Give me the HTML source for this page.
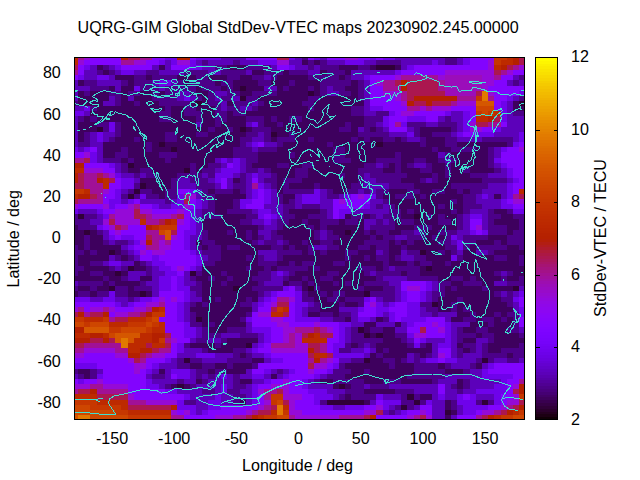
<!DOCTYPE html><html><head><meta charset="utf-8"><title>UQRG-GIM Global StdDev-VTEC maps</title>
<style>html,body{margin:0;padding:0;background:#fff}svg{display:block}text{font-family:"Liberation Sans",Arial,sans-serif;font-size:16.1px;fill:#000}</style></head><body>
<svg width="640" height="480" viewBox="0 0 640 480">
<rect width="640" height="480" fill="#fff"/>
<g shape-rendering="crispEdges">
<rect x="74" y="57" width="451" height="362" fill="#6301ce"/>
<path fill="#bd2a00" d="M74 58h4v2h-4zM507 58h6v2h-6zM74 60h4v5h-4zM501 60h12v5h-12zM494 65h7v5h-7zM494 111h7v5h-7zM476 116h12v6h-12zM74 168h10v5h-10zM103 178h6v5h-6zM103 183h6v6h-6zM84 189h6v5h-6zM519 189h5v5h-5zM74 194h4v5h-4zM140 219h6v6h-6zM171 219h6v6h-6zM152 225h7v5h-7zM159 307h6v5h-6zM283 307h6v5h-6zM271 312h12v5h-12zM84 317h19v5h-19zM128 317h18v5h-18zM109 322h19v5h-19zM159 322h6v5h-6zM152 327h13v6h-13zM74 333h16v5h-16zM103 333h6v5h-6zM140 333h12v5h-12zM314 333h6v5h-6zM134 338h18v5h-18zM302 338h25v5h-25zM128 343h18v5h-18zM152 343h13v5h-13zM128 348h12v5h-12zM314 353h13v5h-13zM74 394h23v6h-23zM97 400h31v5h-31zM121 405h7v5h-7zM283 405h6v5h-6zM128 410h43v5h-43zM271 410h6v5h-6zM513 410h6v5h-6zM258 415h6v5h-6zM494 415h7v5h-7z"/>
<path fill="#a11096" d="M78 58h6v2h-6zM140 58h12v2h-12zM121 60h13v5h-13zM513 65h6v5h-6zM74 70h4v5h-4zM501 70h6v5h-6zM401 75h37v5h-37zM494 75h7v5h-7zM383 80h12v6h-12zM438 80h7v6h-7zM383 86h18v5h-18zM438 86h7v5h-7zM401 91h6v5h-6zM401 96h6v5h-6zM457 96h19v5h-19zM488 96h6v5h-6zM451 101h6v5h-6zM407 106h13v5h-13zM426 106h6v5h-6zM395 122h6v5h-6zM488 122h13v5h-13zM74 158h10v5h-10zM84 173h13v5h-13zM103 173h6v5h-6zM84 178h13v5h-13zM84 183h19v6h-19zM252 183h6v6h-6zM90 189h13v5h-13zM97 194h6v5h-6zM184 194h6v5h-6zM513 194h6v5h-6zM78 199h25v5h-25zM134 204h6v5h-6zM109 214h6v5h-6zM146 214h6v5h-6zM171 214h6v5h-6zM146 219h13v6h-13zM121 225h7v5h-7zM146 230h13v5h-13zM152 235h13v5h-13zM152 240h7v5h-7zM165 240h6v5h-6zM146 245h13v5h-13zM277 297h12v5h-12zM159 302h6v5h-6zM78 307h6v5h-6zM103 307h6v5h-6zM146 307h6v5h-6zM84 312h6v5h-6zM128 312h12v5h-12zM109 317h6v5h-6zM295 327h19v6h-19zM320 327h7v6h-7zM289 333h6v5h-6zM165 338h6v5h-6zM289 338h6v5h-6zM84 343h37v5h-37zM271 343h24v5h-24zM320 343h7v5h-7zM74 348h10v5h-10zM115 348h13v5h-13zM159 348h12v5h-12zM320 348h7v5h-7zM146 353h6v5h-6zM140 358h6v5h-6zM308 358h6v5h-6zM320 358h7v5h-7zM519 379h5v5h-5zM90 384h13v5h-13zM74 389h4v5h-4zM97 389h31v5h-31zM264 389h13v5h-13zM264 394h7v6h-7zM128 400h18v5h-18zM264 405h7v5h-7zM507 405h6v5h-6zM252 410h6v5h-6zM494 410h7v5h-7zM171 415h13v5h-13zM233 415h13v5h-13zM289 415h6v5h-6zM339 415h25v5h-25zM414 415h6v5h-6zM476 415h6v5h-6z"/>
<path fill="#950ad7" d="M84 58h6v2h-6zM345 58h13v2h-13zM78 60h6v5h-6zM134 60h12v5h-12zM177 60h13v5h-13zM277 60h12v5h-12zM488 60h6v5h-6zM488 65h6v5h-6zM519 65h5v5h-5zM445 70h49v5h-49zM507 70h6v5h-6zM395 75h6v5h-6zM438 75h7v5h-7zM482 75h12v5h-12zM376 80h7v6h-7zM482 80h12v6h-12zM482 86h6v5h-6zM383 91h18v5h-18zM488 91h6v5h-6zM395 96h6v5h-6zM401 101h6v5h-6zM457 101h19v5h-19zM420 106h6v5h-6zM432 106h19v5h-19zM401 111h13v5h-13zM470 122h6v5h-6zM470 127h12v5h-12zM519 147h5v5h-5zM84 152h6v6h-6zM84 168h19v5h-19zM109 173h6v5h-6zM103 189h6v5h-6zM190 194h6v5h-6zM358 194h6v5h-6zM339 199h6v5h-6zM513 199h11v5h-11zM74 204h4v5h-4zM103 204h6v5h-6zM128 204h6v5h-6zM184 204h6v5h-6zM115 209h19v5h-19zM140 209h12v5h-12zM177 209h7v5h-7zM115 214h19v5h-19zM152 214h19v5h-19zM103 219h6v6h-6zM115 219h25v6h-25zM177 219h7v6h-7zM109 225h6v5h-6zM476 225h6v5h-6zM115 230h6v5h-6zM171 235h6v5h-6zM140 240h6v5h-6zM159 240h6v5h-6zM159 245h12v5h-12zM140 250h6v5h-6zM152 250h13v5h-13zM177 266h7v5h-7zM407 286h13v5h-13zM159 297h6v5h-6zM171 297h6v5h-6zM289 297h6v5h-6zM146 302h13v5h-13zM271 302h6v5h-6zM370 302h6v5h-6zM74 307h4v5h-4zM90 307h13v5h-13zM109 307h6v5h-6zM134 307h12v5h-12zM115 312h13v5h-13zM258 312h13v5h-13zM271 317h12v5h-12zM277 322h12v5h-12zM314 322h6v5h-6zM432 322h6v5h-6zM283 327h12v6h-12zM327 327h6v6h-6zM438 327h7v6h-7zM283 333h6v5h-6zM295 333h7v5h-7zM414 333h12v5h-12zM171 338h6v5h-6zM283 338h6v5h-6zM295 338h7v5h-7zM295 343h13v5h-13zM84 348h31v5h-31zM271 348h37v5h-37zM74 353h10v5h-10zM115 353h13v5h-13zM152 353h13v5h-13zM438 353h7v5h-7zM128 358h6v5h-6zM327 358h6v5h-6zM134 363h12v6h-12zM314 363h13v6h-13zM134 369h6v5h-6zM308 369h6v5h-6zM97 379h6v5h-6zM283 379h6v5h-6zM74 384h16v5h-16zM103 384h25v5h-25zM271 384h18v5h-18zM513 384h6v5h-6zM258 389h6v5h-6zM283 389h6v5h-6zM128 394h6v6h-6zM283 394h19v6h-19zM513 394h6v6h-6zM146 400h31v5h-31zM264 400h7v5h-7zM289 400h6v5h-6zM507 400h12v5h-12zM258 405h6v5h-6zM289 405h6v5h-6zM376 405h7v5h-7zM501 405h6v5h-6zM171 410h6v5h-6zM184 410h6v5h-6zM246 410h6v5h-6zM289 410h13v5h-13zM364 410h12v5h-12zM420 410h6v5h-6zM482 410h12v5h-12zM215 415h18v5h-18zM295 415h44v5h-44zM407 415h7v5h-7zM426 415h6v5h-6z"/>
<path fill="#8204fe" d="M90 58h31v2h-31zM152 58h13v2h-13zM190 58h6v2h-6zM246 58h31v2h-31zM308 58h6v2h-6zM327 58h18v2h-18zM358 58h12v2h-12zM376 58h7v2h-7zM470 58h24v2h-24zM84 60h37v5h-37zM146 60h13v5h-13zM470 60h18v5h-18zM78 65h6v5h-6zM121 65h31v5h-31zM171 65h19v5h-19zM277 65h12v5h-12zM414 65h74v5h-74zM78 70h6v5h-6zM401 70h44v5h-44zM513 70h11v5h-11zM74 75h4v5h-4zM370 75h25v5h-25zM501 75h12v5h-12zM370 80h6v6h-6zM494 80h13v6h-13zM370 86h13v5h-13zM488 86h36v5h-36zM370 91h13v5h-13zM494 91h25v5h-25zM370 96h25v5h-25zM494 96h13v5h-13zM370 101h31v5h-31zM494 101h7v5h-7zM383 106h24v5h-24zM451 106h25v5h-25zM494 106h7v5h-7zM395 111h6v5h-6zM414 111h31v5h-31zM470 111h6v5h-6zM389 116h18v6h-18zM426 116h12v6h-12zM470 116h6v6h-6zM389 122h6v5h-6zM501 122h6v5h-6zM389 127h18v5h-18zM482 127h12v5h-12zM463 132h13v5h-13zM258 142h6v5h-6zM519 142h5v5h-5zM90 147h7v5h-7zM507 147h12v5h-12zM74 152h10v6h-10zM501 152h23v6h-23zM501 158h23v5h-23zM84 163h25v5h-25zM227 163h6v5h-6zM507 163h17v5h-17zM103 168h12v5h-12zM513 168h11v5h-11zM513 173h11v5h-11zM115 178h6v5h-6zM221 178h6v5h-6zM252 178h6v5h-6zM519 178h5v5h-5zM109 183h12v6h-12zM221 183h6v6h-6zM513 183h11v6h-11zM109 189h6v5h-6zM177 189h13v5h-13zM258 189h6v5h-6zM513 189h6v5h-6zM103 194h12v5h-12zM258 194h6v5h-6zM351 194h7v5h-7zM364 194h6v5h-6zM103 199h6v5h-6zM134 199h6v5h-6zM190 199h6v5h-6zM252 199h12v5h-12zM333 199h6v5h-6zM345 199h25v5h-25zM507 199h6v5h-6zM78 204h25v5h-25zM115 204h13v5h-13zM140 204h12v5h-12zM190 204h6v5h-6zM246 204h18v5h-18zM333 204h31v5h-31zM513 204h11v5h-11zM103 209h12v5h-12zM152 209h25v5h-25zM184 209h6v5h-6zM333 209h6v5h-6zM184 214h6v5h-6zM264 214h7v5h-7zM333 214h6v5h-6zM184 219h6v6h-6zM470 219h12v6h-12zM103 225h6v5h-6zM128 225h18v5h-18zM177 225h13v5h-13zM470 225h6v5h-6zM109 230h6v5h-6zM121 230h25v5h-25zM177 230h7v5h-7zM476 230h6v5h-6zM115 235h6v5h-6zM134 235h12v5h-12zM177 235h7v5h-7zM171 240h13v5h-13zM134 245h12v5h-12zM171 245h13v5h-13zM146 250h6v5h-6zM165 250h25v5h-25zM140 255h12v6h-12zM159 255h37v6h-37zM165 261h31v5h-31zM171 266h6v5h-6zM184 266h6v5h-6zM177 271h7v5h-7zM171 276h6v5h-6zM171 281h6v5h-6zM401 281h25v5h-25zM171 286h6v5h-6zM289 286h6v5h-6zM401 286h6v5h-6zM420 286h6v5h-6zM159 291h25v6h-25zM277 291h18v6h-18zM407 291h13v6h-13zM152 297h7v5h-7zM165 297h6v5h-6zM177 297h7v5h-7zM271 297h6v5h-6zM370 297h6v5h-6zM407 297h13v5h-13zM519 297h5v5h-5zM74 302h41v5h-41zM134 302h12v5h-12zM165 302h12v5h-12zM264 302h7v5h-7zM289 302h6v5h-6zM364 302h6v5h-6zM395 302h12v5h-12zM519 302h5v5h-5zM84 307h6v5h-6zM115 307h19v5h-19zM165 307h12v5h-12zM258 307h13v5h-13zM289 307h6v5h-6zM364 307h12v5h-12zM389 307h18v5h-18zM109 312h6v5h-6zM165 312h12v5h-12zM252 312h6v5h-6zM289 312h6v5h-6zM358 312h18v5h-18zM395 312h12v5h-12zM159 317h18v5h-18zM252 317h19v5h-19zM283 317h12v5h-12zM395 317h6v5h-6zM426 317h19v5h-19zM519 317h5v5h-5zM165 322h19v5h-19zM252 322h25v5h-25zM289 322h25v5h-25zM320 322h19v5h-19zM414 322h18v5h-18zM438 322h7v5h-7zM519 322h5v5h-5zM165 327h19v6h-19zM271 327h12v6h-12zM333 327h6v6h-6zM407 327h13v6h-13zM426 327h12v6h-12zM171 333h13v5h-13zM271 333h12v5h-12zM333 333h6v5h-6zM426 333h19v5h-19zM177 338h13v5h-13zM271 338h12v5h-12zM327 338h12v5h-12zM414 338h6v5h-6zM171 343h6v5h-6zM264 343h7v5h-7zM327 343h6v5h-6zM171 348h6v5h-6zM258 348h13v5h-13zM327 348h6v5h-6zM438 348h13v5h-13zM84 353h31v5h-31zM165 353h12v5h-12zM271 353h37v5h-37zM445 353h6v5h-6zM74 358h54v5h-54zM146 358h19v5h-19zM283 358h25v5h-25zM333 358h6v5h-6zM438 358h7v5h-7zM97 363h37v6h-37zM146 363h6v6h-6zM258 363h50v6h-50zM327 363h6v6h-6zM494 363h30v6h-30zM103 369h31v5h-31zM140 369h6v5h-6zM252 369h12v5h-12zM295 369h13v5h-13zM314 369h13v5h-13zM488 369h36v5h-36zM103 374h43v5h-43zM171 374h6v5h-6zM289 374h25v5h-25zM513 374h11v5h-11zM74 379h4v5h-4zM84 379h13v5h-13zM103 379h43v5h-43zM271 379h12v5h-12zM289 379h13v5h-13zM507 379h12v5h-12zM128 384h18v5h-18zM258 384h13v5h-13zM289 384h13v5h-13zM438 384h7v5h-7zM507 384h6v5h-6zM128 389h37v5h-37zM289 389h19v5h-19zM438 389h7v5h-7zM507 389h6v5h-6zM134 394h50v6h-50zM258 394h6v6h-6zM302 394h12v6h-12zM463 394h7v6h-7zM501 394h12v6h-12zM258 400h6v5h-6zM295 400h19v5h-19zM376 400h7v5h-7zM501 400h6v5h-6zM221 405h37v5h-37zM295 405h25v5h-25zM364 405h12v5h-12zM420 405h12v5h-12zM488 405h13v5h-13zM177 410h7v5h-7zM208 410h38v5h-38zM302 410h62v5h-62zM407 410h13v5h-13zM426 410h6v5h-6zM476 410h6v5h-6zM184 415h31v5h-31zM376 415h31v5h-31zM457 415h19v5h-19z"/>
<path fill="#b42000" d="M121 58h7v2h-7zM177 58h13v2h-13zM513 58h6v2h-6zM513 60h6v5h-6zM501 65h6v5h-6zM401 80h6v6h-6zM401 86h6v5h-6zM414 96h43v5h-43zM407 101h7v5h-7zM426 101h6v5h-6zM488 116h6v6h-6zM74 163h10v5h-10zM74 173h4v5h-4zM74 178h4v5h-4zM97 178h6v5h-6zM78 194h12v5h-12zM165 219h6v6h-6zM146 225h6v5h-6zM146 240h6v5h-6zM152 307h7v5h-7zM78 312h6v5h-6zM103 312h6v5h-6zM146 312h6v5h-6zM74 327h10v6h-10zM90 333h13v5h-13zM152 333h13v5h-13zM308 333h6v5h-6zM74 338h16v5h-16zM103 338h6v5h-6zM152 338h7v5h-7zM140 348h12v5h-12zM308 348h6v5h-6zM128 353h12v5h-12zM314 358h6v5h-6zM519 384h5v5h-5zM90 389h7v5h-7zM519 389h5v5h-5zM171 405h6v5h-6zM519 405h5v5h-5zM507 410h6v5h-6zM252 415h6v5h-6zM370 415h6v5h-6zM488 415h6v5h-6z"/>
<path fill="#ab174f" d="M128 58h12v2h-12zM277 58h12v2h-12zM519 58h5v2h-5zM519 60h5v5h-5zM74 65h4v5h-4zM507 65h6v5h-6zM494 70h7v5h-7zM395 80h6v6h-6zM407 80h31v6h-31zM407 86h31v5h-31zM407 91h38v5h-38zM476 91h6v5h-6zM407 96h7v5h-7zM414 101h12v5h-12zM432 101h19v5h-19zM494 116h7v6h-7zM476 122h12v5h-12zM84 158h6v5h-6zM78 173h6v5h-6zM97 173h6v5h-6zM78 178h6v5h-6zM109 178h6v5h-6zM74 183h10v6h-10zM90 194h7v5h-7zM519 194h5v5h-5zM74 199h4v5h-4zM184 199h6v5h-6zM134 209h6v5h-6zM134 214h12v5h-12zM177 214h7v5h-7zM109 219h6v6h-6zM159 219h6v6h-6zM115 225h6v5h-6zM171 230h6v5h-6zM146 235h6v5h-6zM277 302h12v5h-12zM271 307h6v5h-6zM74 312h4v5h-4zM90 312h13v5h-13zM140 312h6v5h-6zM283 312h6v5h-6zM115 317h13v5h-13zM314 327h6v6h-6zM420 327h6v6h-6zM165 333h6v5h-6zM302 333h6v5h-6zM320 333h13v5h-13zM90 338h13v5h-13zM109 338h6v5h-6zM74 343h10v5h-10zM146 343h6v5h-6zM165 343h6v5h-6zM308 343h12v5h-12zM152 348h7v5h-7zM314 348h6v5h-6zM140 353h6v5h-6zM308 353h6v5h-6zM327 353h6v5h-6zM134 358h6v5h-6zM308 363h6v6h-6zM78 389h12v5h-12zM277 389h6v5h-6zM513 389h6v5h-6zM97 394h31v6h-31zM283 400h6v5h-6zM519 400h5v5h-5zM128 405h43v5h-43zM271 405h6v5h-6zM513 405h6v5h-6zM258 410h13v5h-13zM376 410h7v5h-7zM501 410h6v5h-6zM246 415h6v5h-6zM364 415h6v5h-6zM420 415h6v5h-6zM482 415h6v5h-6z"/>
<path fill="#6e02ea" d="M165 58h12v2h-12zM196 58h25v2h-25zM289 58h6v2h-6zM314 58h6v2h-6zM370 58h6v2h-6zM383 58h12v2h-12zM463 58h7v2h-7zM159 60h6v5h-6zM171 60h6v5h-6zM190 60h6v5h-6zM258 60h19v5h-19zM345 60h19v5h-19zM432 60h6v5h-6zM463 60h7v5h-7zM84 65h6v5h-6zM115 65h6v5h-6zM190 65h12v5h-12zM289 65h6v5h-6zM407 65h7v5h-7zM121 70h13v5h-13zM395 70h6v5h-6zM78 75h6v5h-6zM97 75h12v5h-12zM364 75h6v5h-6zM159 80h12v6h-12zM134 86h6v5h-6zM519 91h5v5h-5zM184 96h6v5h-6zM507 96h6v5h-6zM501 101h6v5h-6zM84 106h6v5h-6zM370 106h13v5h-13zM501 106h6v5h-6zM74 111h10v5h-10zM389 111h6v5h-6zM445 111h6v5h-6zM463 111h7v5h-7zM501 111h6v5h-6zM383 116h6v6h-6zM407 116h19v6h-19zM463 116h7v6h-7zM501 116h6v6h-6zM109 122h6v5h-6zM252 122h6v5h-6zM383 122h6v5h-6zM401 122h6v5h-6zM463 122h7v5h-7zM109 127h6v5h-6zM463 127h7v5h-7zM494 127h7v5h-7zM97 132h6v5h-6zM407 132h7v5h-7zM457 132h6v5h-6zM476 132h18v5h-18zM519 132h5v5h-5zM97 137h6v5h-6zM519 137h5v5h-5zM252 142h6v5h-6zM513 142h6v5h-6zM74 147h4v5h-4zM84 147h6v5h-6zM501 147h6v5h-6zM90 152h7v6h-7zM90 158h7v5h-7zM221 158h6v5h-6zM233 158h7v5h-7zM494 158h7v5h-7zM109 163h6v5h-6zM233 163h7v5h-7zM501 163h6v5h-6zM221 168h19v5h-19zM507 168h6v5h-6zM115 173h6v5h-6zM215 173h18v5h-18zM252 173h6v5h-6zM507 173h6v5h-6zM121 178h13v5h-13zM215 178h6v5h-6zM513 178h6v5h-6zM121 183h13v6h-13zM258 183h6v6h-6zM507 183h6v6h-6zM115 189h6v5h-6zM190 189h6v5h-6zM252 189h6v5h-6zM264 189h7v5h-7zM314 189h6v5h-6zM507 189h6v5h-6zM115 194h6v5h-6zM140 194h6v5h-6zM177 194h7v5h-7zM252 194h6v5h-6zM264 194h7v5h-7zM302 194h18v5h-18zM345 194h6v5h-6zM370 194h6v5h-6zM482 194h6v5h-6zM507 194h6v5h-6zM109 199h12v5h-12zM128 199h6v5h-6zM177 199h7v5h-7zM196 199h6v5h-6zM240 199h12v5h-12zM264 199h7v5h-7zM302 199h18v5h-18zM501 199h6v5h-6zM109 204h6v5h-6zM152 204h7v5h-7zM171 204h13v5h-13zM196 204h6v5h-6zM240 204h6v5h-6zM364 204h6v5h-6zM501 204h12v5h-12zM74 209h4v5h-4zM97 209h6v5h-6zM190 209h6v5h-6zM258 209h13v5h-13zM339 209h12v5h-12zM513 209h11v5h-11zM103 214h6v5h-6zM190 214h6v5h-6zM258 214h6v5h-6zM271 214h6v5h-6zM339 214h6v5h-6zM470 214h12v5h-12zM190 219h6v6h-6zM264 219h7v6h-7zM97 225h6v5h-6zM190 225h6v5h-6zM184 230h12v5h-12zM470 230h6v5h-6zM482 230h6v5h-6zM109 235h6v5h-6zM121 235h13v5h-13zM184 235h6v5h-6zM451 235h6v5h-6zM134 240h6v5h-6zM184 240h6v5h-6zM457 240h6v5h-6zM128 245h6v5h-6zM184 245h6v5h-6zM457 245h6v5h-6zM134 250h6v5h-6zM190 250h6v5h-6zM152 255h7v6h-7zM196 255h6v6h-6zM451 255h6v6h-6zM109 261h12v5h-12zM152 261h13v5h-13zM196 261h6v5h-6zM159 266h12v5h-12zM190 266h6v5h-6zM165 271h12v5h-12zM277 271h6v5h-6zM159 276h12v5h-12zM177 276h7v5h-7zM159 281h12v5h-12zM177 281h7v5h-7zM426 281h6v5h-6zM159 286h12v5h-12zM177 286h13v5h-13zM283 286h6v5h-6zM426 286h6v5h-6zM109 291h6v6h-6zM184 291h6v6h-6zM271 291h6v6h-6zM295 291h7v6h-7zM401 291h6v6h-6zM420 291h6v6h-6zM519 291h5v6h-5zM74 297h16v5h-16zM103 297h12v5h-12zM140 297h12v5h-12zM184 297h6v5h-6zM264 297h7v5h-7zM295 297h7v5h-7zM364 297h6v5h-6zM401 297h6v5h-6zM420 297h6v5h-6zM513 297h6v5h-6zM115 302h6v5h-6zM128 302h6v5h-6zM177 302h7v5h-7zM258 302h6v5h-6zM295 302h13v5h-13zM376 302h7v5h-7zM389 302h6v5h-6zM407 302h13v5h-13zM177 307h7v5h-7zM295 307h7v5h-7zM358 307h6v5h-6zM376 307h13v5h-13zM407 307h13v5h-13zM519 307h5v5h-5zM177 312h7v5h-7zM295 312h7v5h-7zM376 312h7v5h-7zM389 312h6v5h-6zM407 312h13v5h-13zM519 312h5v5h-5zM177 317h7v5h-7zM246 317h6v5h-6zM295 317h25v5h-25zM358 317h12v5h-12zM389 317h6v5h-6zM401 317h25v5h-25zM184 322h6v5h-6zM339 322h12v5h-12zM407 322h7v5h-7zM445 322h6v5h-6zM184 327h12v6h-12zM252 327h19v6h-19zM339 327h6v6h-6zM445 327h6v6h-6zM184 333h12v5h-12zM264 333h7v5h-7zM339 333h6v5h-6zM407 333h7v5h-7zM445 333h6v5h-6zM264 338h7v5h-7zM339 338h6v5h-6zM420 338h6v5h-6zM445 338h6v5h-6zM177 343h7v5h-7zM258 343h6v5h-6zM333 343h12v5h-12zM414 343h6v5h-6zM438 343h13v5h-13zM177 348h7v5h-7zM252 348h6v5h-6zM333 348h6v5h-6zM364 348h6v5h-6zM196 353h19v5h-19zM264 353h7v5h-7zM333 353h31v5h-31zM165 358h6v5h-6zM271 358h12v5h-12zM426 358h12v5h-12zM445 358h12v5h-12zM74 363h23v6h-23zM152 363h7v6h-7zM333 363h6v6h-6zM488 363h6v6h-6zM146 369h6v5h-6zM171 369h19v5h-19zM264 369h7v5h-7zM289 369h6v5h-6zM327 369h6v5h-6zM482 369h6v5h-6zM97 374h6v5h-6zM177 374h13v5h-13zM221 374h6v5h-6zM252 374h12v5h-12zM283 374h6v5h-6zM314 374h6v5h-6zM482 374h31v5h-31zM78 379h6v5h-6zM146 379h6v5h-6zM264 379h7v5h-7zM302 379h6v5h-6zM501 379h6v5h-6zM146 384h13v5h-13zM221 384h6v5h-6zM252 384h6v5h-6zM302 384h6v5h-6zM494 384h13v5h-13zM165 389h12v5h-12zM221 389h6v5h-6zM252 389h6v5h-6zM308 389h19v5h-19zM476 389h31v5h-31zM184 394h6v6h-6zM215 394h6v6h-6zM252 394h6v6h-6zM314 394h19v6h-19zM376 394h7v6h-7zM438 394h7v6h-7zM457 394h6v6h-6zM470 394h6v6h-6zM494 394h7v6h-7zM177 400h7v5h-7zM208 400h13v5h-13zM252 400h6v5h-6zM314 400h6v5h-6zM383 400h18v5h-18zM426 400h6v5h-6zM457 400h19v5h-19zM494 400h7v5h-7zM177 405h19v5h-19zM208 405h13v5h-13zM320 405h13v5h-13zM345 405h19v5h-19zM383 405h6v5h-6zM463 405h25v5h-25zM190 410h6v5h-6zM202 410h6v5h-6zM401 410h6v5h-6zM463 410h13v5h-13z"/>
<path fill="#5c01ba" d="M221 58h25v2h-25zM295 58h7v2h-7zM320 58h7v2h-7zM395 58h50v2h-50zM457 58h6v2h-6zM165 60h6v5h-6zM196 60h6v5h-6zM208 60h25v5h-25zM240 60h18v5h-18zM289 60h13v5h-13zM327 60h18v5h-18zM364 60h12v5h-12zM401 60h31v5h-31zM438 60h7v5h-7zM457 60h6v5h-6zM90 65h7v5h-7zM109 65h6v5h-6zM152 65h7v5h-7zM165 65h6v5h-6zM202 65h13v5h-13zM271 65h6v5h-6zM295 65h13v5h-13zM314 65h6v5h-6zM401 65h6v5h-6zM84 70h13v5h-13zM115 70h6v5h-6zM134 70h12v5h-12zM159 70h25v5h-25zM208 70h13v5h-13zM246 70h6v5h-6zM308 70h12v5h-12zM351 70h44v5h-44zM84 75h13v5h-13zM109 75h6v5h-6zM264 75h7v5h-7zM351 75h13v5h-13zM513 75h6v5h-6zM74 80h4v6h-4zM97 80h24v6h-24zM152 80h7v6h-7zM171 80h6v6h-6zM364 80h6v6h-6zM507 80h6v6h-6zM519 80h5v6h-5zM74 86h16v5h-16zM115 86h6v5h-6zM159 86h6v5h-6zM264 86h13v5h-13zM327 86h6v5h-6zM364 86h6v5h-6zM74 91h4v5h-4zM177 91h13v5h-13zM215 91h12v5h-12zM327 91h12v5h-12zM364 91h6v5h-6zM74 96h4v5h-4zM109 96h6v5h-6zM128 96h6v5h-6zM177 96h7v5h-7zM190 96h6v5h-6zM215 96h6v5h-6zM233 96h7v5h-7zM364 96h6v5h-6zM513 96h6v5h-6zM103 101h12v5h-12zM221 101h6v5h-6zM252 101h6v5h-6zM364 101h6v5h-6zM507 101h6v5h-6zM74 106h10v5h-10zM221 106h6v5h-6zM240 106h12v5h-12zM364 106h6v5h-6zM507 106h6v5h-6zM84 111h6v5h-6zM364 111h12v5h-12zM451 111h12v5h-12zM507 111h6v5h-6zM74 116h4v6h-4zM438 116h7v6h-7zM451 116h12v6h-12zM507 116h17v6h-17zM74 122h4v5h-4zM196 122h6v5h-6zM246 122h6v5h-6zM376 122h7v5h-7zM426 122h12v5h-12zM457 122h6v5h-6zM507 122h17v5h-17zM74 127h4v5h-4zM358 127h6v5h-6zM383 127h6v5h-6zM407 127h7v5h-7zM457 127h6v5h-6zM501 127h23v5h-23zM74 132h4v5h-4zM90 132h7v5h-7zM103 132h12v5h-12zM258 132h6v5h-6zM389 132h18v5h-18zM451 132h6v5h-6zM494 132h25v5h-25zM74 137h4v5h-4zM90 137h7v5h-7zM103 137h6v5h-6zM252 137h12v5h-12zM407 137h13v5h-13zM457 137h25v5h-25zM513 137h6v5h-6zM74 142h4v5h-4zM90 142h13v5h-13zM246 142h6v5h-6zM264 142h13v5h-13zM78 147h6v5h-6zM97 147h6v5h-6zM252 147h6v5h-6zM494 147h7v5h-7zM97 152h6v6h-6zM438 152h7v6h-7zM494 152h7v6h-7zM97 158h6v5h-6zM215 158h6v5h-6zM227 158h6v5h-6zM240 158h6v5h-6zM445 158h6v5h-6zM115 163h6v5h-6zM221 163h6v5h-6zM240 163h6v5h-6zM376 163h7v5h-7zM414 163h12v5h-12zM494 163h7v5h-7zM115 168h6v5h-6zM215 168h6v5h-6zM240 168h6v5h-6zM258 168h6v5h-6zM501 168h6v5h-6zM121 173h13v5h-13zM140 173h6v5h-6zM202 173h6v5h-6zM233 173h7v5h-7zM246 173h6v5h-6zM258 173h13v5h-13zM364 173h6v5h-6zM488 173h19v5h-19zM134 178h6v5h-6zM177 178h13v5h-13zM208 178h7v5h-7zM227 178h6v5h-6zM246 178h6v5h-6zM258 178h6v5h-6zM364 178h12v5h-12zM426 178h6v5h-6zM507 178h6v5h-6zM177 183h19v6h-19zM215 183h6v6h-6zM227 183h6v6h-6zM246 183h6v6h-6zM264 183h7v6h-7zM364 183h25v6h-25zM488 183h19v6h-19zM121 189h7v5h-7zM196 189h6v5h-6zM246 189h6v5h-6zM271 189h6v5h-6zM320 189h7v5h-7zM358 189h6v5h-6zM370 189h6v5h-6zM482 189h25v5h-25zM196 194h6v5h-6zM246 194h6v5h-6zM271 194h6v5h-6zM295 194h7v5h-7zM320 194h7v5h-7zM339 194h6v5h-6zM476 194h6v5h-6zM488 194h6v5h-6zM501 194h6v5h-6zM121 199h7v5h-7zM140 199h25v5h-25zM171 199h6v5h-6zM202 199h6v5h-6zM271 199h6v5h-6zM295 199h7v5h-7zM320 199h13v5h-13zM370 199h13v5h-13zM476 199h25v5h-25zM159 204h12v5h-12zM202 204h6v5h-6zM264 204h19v5h-19zM295 204h7v5h-7zM320 204h13v5h-13zM370 204h6v5h-6zM383 204h6v5h-6zM482 204h19v5h-19zM78 209h19v5h-19zM196 209h6v5h-6zM252 209h6v5h-6zM271 209h12v5h-12zM327 209h6v5h-6zM351 209h38v5h-38zM470 209h18v5h-18zM97 214h6v5h-6zM196 214h6v5h-6zM277 214h6v5h-6zM327 214h6v5h-6zM376 214h7v5h-7zM463 214h7v5h-7zM482 214h6v5h-6zM90 219h13v6h-13zM196 219h6v6h-6zM252 219h12v6h-12zM271 219h6v6h-6zM364 219h12v6h-12zM383 219h6v6h-6zM463 219h7v6h-7zM482 219h6v6h-6zM196 225h6v5h-6zM264 225h13v5h-13zM364 225h6v5h-6zM463 225h7v5h-7zM482 225h6v5h-6zM103 230h6v5h-6zM196 230h6v5h-6zM258 230h13v5h-13zM320 230h7v5h-7zM414 230h6v5h-6zM457 230h13v5h-13zM103 235h6v5h-6zM190 235h12v5h-12zM264 235h7v5h-7zM320 235h7v5h-7zM395 235h12v5h-12zM457 235h6v5h-6zM109 240h6v5h-6zM128 240h6v5h-6zM190 240h6v5h-6zM258 240h6v5h-6zM277 240h6v5h-6zM451 240h6v5h-6zM121 245h7v5h-7zM190 245h6v5h-6zM314 245h13v5h-13zM128 250h6v5h-6zM196 250h6v5h-6zM258 250h19v5h-19zM376 250h7v5h-7zM401 250h6v5h-6zM457 250h6v5h-6zM476 250h12v5h-12zM109 255h6v6h-6zM134 255h6v6h-6zM202 255h6v6h-6zM264 255h13v6h-13zM401 255h13v6h-13zM103 261h6v5h-6zM121 261h13v5h-13zM146 261h6v5h-6zM115 266h6v5h-6zM152 266h7v5h-7zM196 266h6v5h-6zM389 266h6v5h-6zM128 271h18v5h-18zM152 271h13v5h-13zM184 271h6v5h-6zM271 271h6v5h-6zM283 271h6v5h-6zM370 271h6v5h-6zM501 271h6v5h-6zM128 276h12v5h-12zM152 276h7v5h-7zM184 276h6v5h-6zM271 276h12v5h-12zM383 276h24v5h-24zM74 281h4v5h-4zM146 281h13v5h-13zM184 281h12v5h-12zM264 281h19v5h-19zM389 281h12v5h-12zM432 281h6v5h-6zM494 281h13v5h-13zM152 286h7v5h-7zM295 286h7v5h-7zM395 286h6v5h-6zM432 286h6v5h-6zM519 286h5v5h-5zM152 291h7v6h-7zM190 291h6v6h-6zM264 291h7v6h-7zM395 291h6v6h-6zM426 291h6v6h-6zM501 291h6v6h-6zM513 291h6v6h-6zM90 297h13v5h-13zM115 297h13v5h-13zM134 297h6v5h-6zM190 297h12v5h-12zM258 297h6v5h-6zM376 297h7v5h-7zM395 297h6v5h-6zM426 297h6v5h-6zM121 302h7v5h-7zM184 302h6v5h-6zM252 302h6v5h-6zM308 302h6v5h-6zM383 302h6v5h-6zM513 302h6v5h-6zM184 307h6v5h-6zM252 307h6v5h-6zM302 307h6v5h-6zM339 307h19v5h-19zM420 307h6v5h-6zM513 307h6v5h-6zM184 312h6v5h-6zM302 312h6v5h-6zM351 312h7v5h-7zM383 312h6v5h-6zM420 312h12v5h-12zM438 312h19v5h-19zM184 317h6v5h-6zM320 317h13v5h-13zM351 317h7v5h-7zM370 317h6v5h-6zM445 317h6v5h-6zM246 322h6v5h-6zM351 322h13v5h-13zM376 322h19v5h-19zM401 322h6v5h-6zM451 322h19v5h-19zM196 327h6v6h-6zM246 327h6v6h-6zM345 327h6v6h-6zM395 327h12v6h-12zM451 327h6v6h-6zM519 327h5v6h-5zM196 333h6v5h-6zM221 333h19v5h-19zM258 333h6v5h-6zM345 333h6v5h-6zM451 333h6v5h-6zM190 338h6v5h-6zM208 338h13v5h-13zM258 338h6v5h-6zM345 338h6v5h-6zM407 338h7v5h-7zM426 338h19v5h-19zM451 338h6v5h-6zM476 338h12v5h-12zM252 343h6v5h-6zM364 343h6v5h-6zM432 343h6v5h-6zM451 343h6v5h-6zM476 343h6v5h-6zM184 348h18v5h-18zM246 348h6v5h-6zM351 348h13v5h-13zM370 348h6v5h-6zM432 348h6v5h-6zM451 348h6v5h-6zM476 348h6v5h-6zM177 353h19v5h-19zM215 353h18v5h-18zM252 353h12v5h-12zM364 353h6v5h-6zM407 353h7v5h-7zM432 353h6v5h-6zM451 353h6v5h-6zM463 353h19v5h-19zM171 358h6v5h-6zM202 358h25v5h-25zM264 358h7v5h-7zM339 358h12v5h-12zM407 358h7v5h-7zM420 358h6v5h-6zM457 358h19v5h-19zM494 358h13v5h-13zM519 358h5v5h-5zM159 363h18v6h-18zM451 363h19v6h-19zM482 363h6v6h-6zM97 369h6v5h-6zM152 369h7v5h-7zM165 369h6v5h-6zM190 369h6v5h-6zM246 369h6v5h-6zM271 369h6v5h-6zM283 369h6v5h-6zM470 369h12v5h-12zM74 374h4v5h-4zM146 374h6v5h-6zM165 374h6v5h-6zM190 374h6v5h-6zM202 374h6v5h-6zM215 374h6v5h-6zM227 374h6v5h-6zM240 374h12v5h-12zM264 374h7v5h-7zM277 374h6v5h-6zM320 374h7v5h-7zM445 374h37v5h-37zM152 379h25v5h-25zM184 379h12v5h-12zM208 379h25v5h-25zM252 379h12v5h-12zM308 379h6v5h-6zM438 379h19v5h-19zM470 379h31v5h-31zM159 384h6v5h-6zM196 384h25v5h-25zM227 384h6v5h-6zM246 384h6v5h-6zM308 384h25v5h-25zM364 384h6v5h-6zM389 384h49v5h-49zM445 384h6v5h-6zM470 384h24v5h-24zM177 389h25v5h-25zM215 389h6v5h-6zM240 389h12v5h-12zM327 389h18v5h-18zM414 389h24v5h-24zM445 389h12v5h-12zM463 389h13v5h-13zM190 394h25v6h-25zM221 394h12v6h-12zM246 394h6v6h-6zM333 394h6v6h-6zM383 394h18v6h-18zM432 394h6v6h-6zM445 394h12v6h-12zM476 394h18v6h-18zM196 400h12v5h-12zM221 400h12v5h-12zM246 400h6v5h-6zM370 400h6v5h-6zM432 400h13v5h-13zM196 405h12v5h-12zM333 405h12v5h-12zM389 405h6v5h-6zM414 405h6v5h-6zM432 405h13v5h-13zM457 405h6v5h-6zM196 410h6v5h-6zM383 410h6v5h-6zM395 410h6v5h-6zM432 410h13v5h-13zM457 410h6v5h-6zM432 415h13v5h-13zM451 415h6v5h-6z"/>
<path fill="#4c0089" d="M302 58h6v2h-6zM445 58h12v2h-12zM202 60h6v5h-6zM233 60h7v5h-7zM308 60h6v5h-6zM320 60h7v5h-7zM376 60h25v5h-25zM445 60h12v5h-12zM103 65h6v5h-6zM215 65h12v5h-12zM246 65h25v5h-25zM308 65h6v5h-6zM320 65h19v5h-19zM358 65h12v5h-12zM97 70h6v5h-6zM109 70h6v5h-6zM146 70h13v5h-13zM184 70h24v5h-24zM221 70h25v5h-25zM264 70h19v5h-19zM289 70h19v5h-19zM327 70h18v5h-18zM134 75h12v5h-12zM152 75h25v5h-25zM196 75h12v5h-12zM227 75h13v5h-13zM252 75h12v5h-12zM271 75h6v5h-6zM308 75h31v5h-31zM345 75h6v5h-6zM519 75h5v5h-5zM84 80h13v6h-13zM121 80h7v6h-7zM134 80h18v6h-18zM177 80h7v6h-7zM190 80h25v6h-25zM221 80h12v6h-12zM258 80h13v6h-13zM289 80h6v6h-6zM320 80h31v6h-31zM358 80h6v6h-6zM513 80h6v6h-6zM90 86h19v5h-19zM140 86h19v5h-19zM165 86h31v5h-31zM202 86h19v5h-19zM227 86h6v5h-6zM283 86h6v5h-6zM308 86h6v5h-6zM320 86h7v5h-7zM333 86h12v5h-12zM358 86h6v5h-6zM84 91h6v5h-6zM109 91h12v5h-12zM128 91h12v5h-12zM152 91h7v5h-7zM165 91h12v5h-12zM190 91h6v5h-6zM208 91h7v5h-7zM227 91h13v5h-13zM252 91h25v5h-25zM320 91h7v5h-7zM339 91h12v5h-12zM358 91h6v5h-6zM115 96h6v5h-6zM152 96h25v5h-25zM196 96h6v5h-6zM208 96h7v5h-7zM221 96h12v5h-12zM246 96h12v5h-12zM308 96h12v5h-12zM358 96h6v5h-6zM519 96h5v5h-5zM74 101h4v5h-4zM115 101h6v5h-6zM134 101h6v5h-6zM159 101h31v5h-31zM208 101h13v5h-13zM233 101h19v5h-19zM258 101h6v5h-6zM302 101h12v5h-12zM90 106h7v5h-7zM165 106h6v5h-6zM184 106h12v5h-12zM215 106h6v5h-6zM227 106h13v5h-13zM252 106h6v5h-6zM308 106h6v5h-6zM351 106h13v5h-13zM159 111h12v5h-12zM184 111h18v5h-18zM215 111h12v5h-12zM233 111h13v5h-13zM351 111h13v5h-13zM376 111h13v5h-13zM513 111h11v5h-11zM78 116h6v6h-6zM90 116h7v6h-7zM159 116h12v6h-12zM196 116h6v6h-6zM215 116h12v6h-12zM246 116h18v6h-18zM271 116h6v6h-6zM289 116h13v6h-13zM364 116h19v6h-19zM445 116h6v6h-6zM97 122h12v5h-12zM115 122h6v5h-6zM215 122h6v5h-6zM258 122h6v5h-6zM277 122h6v5h-6zM345 122h6v5h-6zM364 122h12v5h-12zM407 122h19v5h-19zM438 122h19v5h-19zM103 127h6v5h-6zM115 127h6v5h-6zM208 127h7v5h-7zM227 127h6v5h-6zM252 127h19v5h-19zM339 127h12v5h-12zM364 127h6v5h-6zM376 127h7v5h-7zM414 127h6v5h-6zM451 127h6v5h-6zM84 132h6v5h-6zM115 132h6v5h-6zM165 132h12v5h-12zM196 132h12v5h-12zM246 132h12v5h-12zM264 132h7v5h-7zM289 132h6v5h-6zM358 132h31v5h-31zM414 132h6v5h-6zM432 132h19v5h-19zM84 137h6v5h-6zM109 137h6v5h-6zM134 137h6v5h-6zM165 137h12v5h-12zM240 137h12v5h-12zM264 137h7v5h-7zM277 137h18v5h-18zM308 137h6v5h-6zM351 137h7v5h-7zM364 137h6v5h-6zM383 137h12v5h-12zM401 137h6v5h-6zM420 137h6v5h-6zM445 137h12v5h-12zM482 137h31v5h-31zM78 142h12v5h-12zM146 142h6v5h-6zM240 142h6v5h-6zM277 142h6v5h-6zM327 142h6v5h-6zM420 142h6v5h-6zM445 142h12v5h-12zM507 142h6v5h-6zM121 147h7v5h-7zM146 147h6v5h-6zM233 147h19v5h-19zM258 147h19v5h-19zM333 147h12v5h-12zM432 147h6v5h-6zM451 147h25v5h-25zM488 147h6v5h-6zM115 152h13v6h-13zM159 152h18v6h-18zM233 152h25v6h-25zM289 152h6v6h-6zM333 152h12v6h-12zM395 152h6v6h-6zM445 152h6v6h-6zM488 152h6v6h-6zM103 158h18v5h-18zM128 158h6v5h-6zM165 158h6v5h-6zM246 158h12v5h-12zM333 158h18v5h-18zM376 158h25v5h-25zM414 158h12v5h-12zM438 158h7v5h-7zM451 158h6v5h-6zM488 158h6v5h-6zM121 163h7v5h-7zM190 163h6v5h-6zM208 163h13v5h-13zM246 163h6v5h-6zM277 163h12v5h-12zM302 163h12v5h-12zM364 163h12v5h-12zM383 163h6v5h-6zM395 163h6v5h-6zM407 163h7v5h-7zM426 163h6v5h-6zM445 163h6v5h-6zM488 163h6v5h-6zM121 168h7v5h-7zM140 168h12v5h-12zM190 168h6v5h-6zM202 168h13v5h-13zM246 168h12v5h-12zM264 168h7v5h-7zM295 168h13v5h-13zM358 168h25v5h-25zM395 168h6v5h-6zM420 168h12v5h-12zM445 168h6v5h-6zM463 168h7v5h-7zM494 168h7v5h-7zM134 173h6v5h-6zM146 173h13v5h-13zM177 173h25v5h-25zM208 173h7v5h-7zM240 173h6v5h-6zM271 173h6v5h-6zM295 173h13v5h-13zM339 173h6v5h-6zM358 173h6v5h-6zM370 173h37v5h-37zM432 173h6v5h-6zM445 173h6v5h-6zM470 173h18v5h-18zM171 178h6v5h-6zM190 178h18v5h-18zM240 178h6v5h-6zM264 178h13v5h-13zM283 178h19v5h-19zM358 178h6v5h-6zM376 178h25v5h-25zM420 178h6v5h-6zM432 178h6v5h-6zM482 178h25v5h-25zM134 183h6v6h-6zM171 183h6v6h-6zM196 183h19v6h-19zM233 183h13v6h-13zM271 183h6v6h-6zM283 183h6v6h-6zM314 183h6v6h-6zM351 183h13v6h-13zM389 183h25v6h-25zM451 183h37v6h-37zM128 189h6v5h-6zM140 189h12v5h-12zM165 189h12v5h-12zM202 189h6v5h-6zM215 189h18v5h-18zM240 189h6v5h-6zM283 189h31v5h-31zM327 189h6v5h-6zM345 189h13v5h-13zM364 189h6v5h-6zM376 189h13v5h-13zM407 189h13v5h-13zM432 189h13v5h-13zM457 189h6v5h-6zM470 189h12v5h-12zM121 194h7v5h-7zM134 194h6v5h-6zM146 194h13v5h-13zM165 194h12v5h-12zM202 194h13v5h-13zM277 194h6v5h-6zM327 194h12v5h-12zM376 194h7v5h-7zM395 194h19v5h-19zM420 194h6v5h-6zM463 194h13v5h-13zM165 199h6v5h-6zM208 199h7v5h-7zM233 199h7v5h-7zM277 199h6v5h-6zM289 199h6v5h-6zM383 199h6v5h-6zM451 199h6v5h-6zM463 199h13v5h-13zM208 204h7v5h-7zM233 204h7v5h-7zM283 204h12v5h-12zM302 204h18v5h-18zM376 204h7v5h-7zM389 204h6v5h-6zM438 204h7v5h-7zM463 204h19v5h-19zM202 209h13v5h-13zM227 209h25v5h-25zM283 209h6v5h-6zM320 209h7v5h-7zM389 209h12v5h-12zM407 209h7v5h-7zM451 209h6v5h-6zM463 209h7v5h-7zM488 209h6v5h-6zM507 209h6v5h-6zM74 214h4v5h-4zM84 214h13v5h-13zM202 214h19v5h-19zM246 214h12v5h-12zM283 214h12v5h-12zM308 214h19v5h-19zM351 214h13v5h-13zM370 214h6v5h-6zM383 214h18v5h-18zM426 214h6v5h-6zM438 214h7v5h-7zM457 214h6v5h-6zM488 214h13v5h-13zM513 214h11v5h-11zM74 219h16v6h-16zM240 219h12v6h-12zM277 219h12v6h-12zM302 219h6v6h-6zM320 219h19v6h-19zM345 219h13v6h-13zM376 219h7v6h-7zM389 219h6v6h-6zM401 219h13v6h-13zM438 219h13v6h-13zM457 219h6v6h-6zM488 219h6v6h-6zM519 219h5v6h-5zM78 225h19v5h-19zM258 225h6v5h-6zM277 225h6v5h-6zM308 225h6v5h-6zM320 225h7v5h-7zM370 225h25v5h-25zM414 225h18v5h-18zM457 225h6v5h-6zM488 225h19v5h-19zM519 225h5v5h-5zM97 230h6v5h-6zM202 230h6v5h-6zM227 230h6v5h-6zM246 230h6v5h-6zM271 230h6v5h-6zM314 230h6v5h-6zM327 230h6v5h-6zM364 230h6v5h-6zM376 230h13v5h-13zM401 230h13v5h-13zM420 230h6v5h-6zM438 230h19v5h-19zM488 230h19v5h-19zM513 230h11v5h-11zM84 235h6v5h-6zM202 235h6v5h-6zM246 235h6v5h-6zM258 235h6v5h-6zM271 235h12v5h-12zM314 235h6v5h-6zM327 235h12v5h-12zM370 235h6v5h-6zM383 235h12v5h-12zM407 235h19v5h-19zM432 235h6v5h-6zM445 235h6v5h-6zM463 235h25v5h-25zM507 235h17v5h-17zM84 240h6v5h-6zM103 240h6v5h-6zM115 240h13v5h-13zM202 240h13v5h-13zM252 240h6v5h-6zM264 240h13v5h-13zM283 240h6v5h-6zM302 240h6v5h-6zM320 240h13v5h-13zM364 240h25v5h-25zM395 240h6v5h-6zM407 240h7v5h-7zM438 240h13v5h-13zM463 240h13v5h-13zM494 240h7v5h-7zM507 240h17v5h-17zM74 245h4v5h-4zM84 245h6v5h-6zM196 245h6v5h-6zM208 245h13v5h-13zM227 245h13v5h-13zM271 245h12v5h-12zM289 245h6v5h-6zM308 245h6v5h-6zM327 245h12v5h-12zM358 245h12v5h-12zM376 245h13v5h-13zM401 245h6v5h-6zM445 245h12v5h-12zM463 245h7v5h-7zM476 245h31v5h-31zM519 245h5v5h-5zM74 250h10v5h-10zM90 250h7v5h-7zM121 250h7v5h-7zM202 250h19v5h-19zM277 250h25v5h-25zM308 250h6v5h-6zM320 250h7v5h-7zM345 250h13v5h-13zM383 250h6v5h-6zM407 250h13v5h-13zM438 250h7v5h-7zM451 250h6v5h-6zM488 250h6v5h-6zM74 255h4v6h-4zM115 255h6v6h-6zM128 255h6v6h-6zM208 255h13v6h-13zM246 255h6v6h-6zM258 255h6v6h-6zM277 255h6v6h-6zM345 255h6v6h-6zM364 255h6v6h-6zM376 255h13v6h-13zM395 255h6v6h-6zM414 255h12v6h-12zM457 255h6v6h-6zM494 255h13v6h-13zM519 255h5v6h-5zM74 261h4v5h-4zM90 261h13v5h-13zM140 261h6v5h-6zM202 261h13v5h-13zM258 261h19v5h-19zM289 261h6v5h-6zM302 261h12v5h-12zM333 261h12v5h-12zM383 261h6v5h-6zM407 261h7v5h-7zM420 261h12v5h-12zM445 261h6v5h-6zM519 261h5v5h-5zM74 266h10v5h-10zM109 266h6v5h-6zM121 266h7v5h-7zM146 266h6v5h-6zM246 266h6v5h-6zM264 266h7v5h-7zM277 266h31v5h-31zM314 266h6v5h-6zM358 266h18v5h-18zM383 266h6v5h-6zM395 266h25v5h-25zM74 271h4v5h-4zM90 271h13v5h-13zM146 271h6v5h-6zM196 271h6v5h-6zM221 271h6v5h-6zM258 271h13v5h-13zM289 271h6v5h-6zM327 271h12v5h-12zM364 271h6v5h-6zM376 271h25v5h-25zM407 271h13v5h-13zM494 271h7v5h-7zM507 271h6v5h-6zM103 276h6v5h-6zM121 276h7v5h-7zM190 276h6v5h-6zM208 276h7v5h-7zM227 276h6v5h-6zM252 276h19v5h-19zM283 276h6v5h-6zM302 276h6v5h-6zM320 276h13v5h-13zM376 276h7v5h-7zM407 276h31v5h-31zM451 276h12v5h-12zM470 276h6v5h-6zM501 276h6v5h-6zM519 276h5v5h-5zM78 281h25v5h-25zM109 281h6v5h-6zM140 281h6v5h-6zM196 281h6v5h-6zM221 281h6v5h-6zM258 281h6v5h-6zM289 281h13v5h-13zM308 281h6v5h-6zM333 281h6v5h-6zM345 281h6v5h-6zM364 281h25v5h-25zM438 281h13v5h-13zM463 281h19v5h-19zM507 281h17v5h-17zM74 286h4v5h-4zM90 286h7v5h-7zM115 286h13v5h-13zM134 286h18v5h-18zM190 286h12v5h-12zM252 286h31v5h-31zM314 286h6v5h-6zM358 286h6v5h-6zM383 286h12v5h-12zM438 286h7v5h-7zM451 286h6v5h-6zM482 286h6v5h-6zM78 291h12v6h-12zM97 291h12v6h-12zM115 291h13v6h-13zM196 291h6v6h-6zM258 291h6v6h-6zM302 291h6v6h-6zM320 291h7v6h-7zM333 291h12v6h-12zM370 291h25v6h-25zM432 291h13v6h-13zM494 291h7v6h-7zM507 291h6v6h-6zM128 297h6v5h-6zM215 297h6v5h-6zM246 297h6v5h-6zM302 297h12v5h-12zM327 297h12v5h-12zM345 297h19v5h-19zM383 297h12v5h-12zM432 297h6v5h-6zM457 297h6v5h-6zM501 297h12v5h-12zM190 302h6v5h-6zM202 302h6v5h-6zM240 302h12v5h-12zM314 302h6v5h-6zM339 302h6v5h-6zM358 302h6v5h-6zM420 302h12v5h-12zM451 302h6v5h-6zM507 302h6v5h-6zM308 307h12v5h-12zM426 307h12v5h-12zM451 307h6v5h-6zM463 307h7v5h-7zM190 312h6v5h-6zM246 312h6v5h-6zM320 312h13v5h-13zM339 312h12v5h-12zM432 312h6v5h-6zM470 312h6v5h-6zM494 312h7v5h-7zM507 312h12v5h-12zM190 317h6v5h-6zM240 317h6v5h-6zM333 317h12v5h-12zM383 317h6v5h-6zM463 317h13v5h-13zM482 317h12v5h-12zM501 317h6v5h-6zM513 317h6v5h-6zM190 322h12v5h-12zM208 322h7v5h-7zM488 322h6v5h-6zM513 322h6v5h-6zM202 327h6v6h-6zM227 327h19v6h-19zM351 327h7v6h-7zM370 327h13v6h-13zM457 327h6v6h-6zM476 327h12v6h-12zM507 327h12v6h-12zM202 333h19v5h-19zM240 333h18v5h-18zM351 333h13v5h-13zM395 333h12v5h-12zM457 333h19v5h-19zM482 333h12v5h-12zM519 333h5v5h-5zM196 338h12v5h-12zM221 338h6v5h-6zM351 338h32v5h-32zM401 338h6v5h-6zM457 338h6v5h-6zM488 338h6v5h-6zM184 343h6v5h-6zM215 343h6v5h-6zM345 343h6v5h-6zM358 343h6v5h-6zM370 343h6v5h-6zM407 343h7v5h-7zM420 343h6v5h-6zM463 343h13v5h-13zM482 343h6v5h-6zM519 343h5v5h-5zM202 348h6v5h-6zM233 348h13v5h-13zM339 348h12v5h-12zM383 348h6v5h-6zM457 348h6v5h-6zM470 348h6v5h-6zM482 348h6v5h-6zM501 348h23v5h-23zM233 353h7v5h-7zM246 353h6v5h-6zM376 353h7v5h-7zM414 353h6v5h-6zM426 353h6v5h-6zM457 353h6v5h-6zM482 353h25v5h-25zM513 353h11v5h-11zM177 358h7v5h-7zM190 358h12v5h-12zM227 358h25v5h-25zM351 358h13v5h-13zM383 358h12v5h-12zM401 358h6v5h-6zM414 358h6v5h-6zM476 358h6v5h-6zM488 358h6v5h-6zM507 358h12v5h-12zM177 363h13v6h-13zM202 363h13v6h-13zM227 363h6v6h-6zM252 363h6v6h-6zM339 363h6v6h-6zM389 363h6v6h-6zM414 363h24v6h-24zM445 363h6v6h-6zM470 363h6v6h-6zM74 369h4v5h-4zM90 369h7v5h-7zM196 369h12v5h-12zM215 369h12v5h-12zM277 369h6v5h-6zM333 369h18v5h-18zM364 369h6v5h-6zM414 369h31v5h-31zM463 369h7v5h-7zM78 374h6v5h-6zM90 374h7v5h-7zM152 374h13v5h-13zM196 374h6v5h-6zM208 374h7v5h-7zM233 374h7v5h-7zM327 374h18v5h-18zM407 374h38v5h-38zM177 379h7v5h-7zM202 379h6v5h-6zM233 379h7v5h-7zM314 379h6v5h-6zM333 379h31v5h-31zM383 379h18v5h-18zM432 379h6v5h-6zM463 379h7v5h-7zM165 384h6v5h-6zM190 384h6v5h-6zM233 384h13v5h-13zM351 384h13v5h-13zM370 384h19v5h-19zM451 384h6v5h-6zM463 384h7v5h-7zM202 389h13v5h-13zM227 389h13v5h-13zM345 389h19v5h-19zM395 389h19v5h-19zM457 389h6v5h-6zM233 394h13v6h-13zM339 394h6v6h-6zM351 394h25v6h-25zM401 394h6v6h-6zM414 394h6v6h-6zM184 400h12v5h-12zM233 400h7v5h-7zM320 400h7v5h-7zM401 400h13v5h-13zM420 400h6v5h-6zM451 400h6v5h-6zM476 400h6v5h-6zM488 400h6v5h-6zM395 405h6v5h-6zM407 405h7v5h-7zM451 405h6v5h-6zM389 410h6v5h-6z"/>
<path fill="#c63700" d="M494 58h13v2h-13zM494 60h7v5h-7zM476 96h6v5h-6zM476 111h6v5h-6zM488 111h6v5h-6zM74 189h10v5h-10zM159 225h18v5h-18zM277 307h6v5h-6zM152 312h13v5h-13zM74 317h10v5h-10zM103 317h6v5h-6zM146 317h6v5h-6zM84 322h6v5h-6zM128 322h18v5h-18zM152 322h7v5h-7zM109 327h12v6h-12zM146 327h6v6h-6zM159 338h6v5h-6zM271 394h12v6h-12zM519 394h5v6h-5zM74 400h23v5h-23zM271 400h6v5h-6zM90 405h31v5h-31zM115 410h13v5h-13zM283 410h6v5h-6zM519 410h5v5h-5zM128 415h43v5h-43zM264 415h13v5h-13zM501 415h12v5h-12z"/>
<path fill="#3e005e" d="M302 60h6v5h-6zM314 60h6v5h-6zM97 65h6v5h-6zM159 65h6v5h-6zM227 65h19v5h-19zM339 65h19v5h-19zM370 65h6v5h-6zM395 65h6v5h-6zM103 70h6v5h-6zM252 70h12v5h-12zM283 70h6v5h-6zM320 70h7v5h-7zM345 70h6v5h-6zM115 75h19v5h-19zM146 75h6v5h-6zM177 75h19v5h-19zM208 75h19v5h-19zM240 75h12v5h-12zM277 75h31v5h-31zM339 75h6v5h-6zM78 80h6v6h-6zM128 80h6v6h-6zM184 80h6v6h-6zM215 80h6v6h-6zM233 80h25v6h-25zM271 80h18v6h-18zM295 80h25v6h-25zM351 80h7v6h-7zM109 86h6v5h-6zM121 86h13v5h-13zM196 86h6v5h-6zM221 86h6v5h-6zM233 86h7v5h-7zM246 86h18v5h-18zM277 86h6v5h-6zM289 86h19v5h-19zM314 86h6v5h-6zM345 86h13v5h-13zM78 91h6v5h-6zM90 91h19v5h-19zM121 91h7v5h-7zM140 91h12v5h-12zM159 91h6v5h-6zM196 91h12v5h-12zM240 91h12v5h-12zM277 91h31v5h-31zM314 91h6v5h-6zM351 91h7v5h-7zM78 96h31v5h-31zM121 96h7v5h-7zM134 96h18v5h-18zM202 96h6v5h-6zM258 96h50v5h-50zM320 96h38v5h-38zM78 101h25v5h-25zM121 101h13v5h-13zM140 101h19v5h-19zM190 101h6v5h-6zM202 101h6v5h-6zM227 101h6v5h-6zM264 101h38v5h-38zM314 101h50v5h-50zM513 101h6v5h-6zM97 106h68v5h-68zM171 106h13v5h-13zM196 106h19v5h-19zM258 106h50v5h-50zM314 106h37v5h-37zM513 106h11v5h-11zM90 111h69v5h-69zM171 111h13v5h-13zM202 111h13v5h-13zM227 111h6v5h-6zM246 111h105v5h-105zM84 116h6v6h-6zM97 116h62v6h-62zM171 116h25v6h-25zM202 116h13v6h-13zM227 116h19v6h-19zM264 116h7v6h-7zM277 116h12v6h-12zM302 116h62v6h-62zM78 122h19v5h-19zM121 122h75v5h-75zM202 122h13v5h-13zM221 122h25v5h-25zM264 122h13v5h-13zM283 122h62v5h-62zM351 122h13v5h-13zM78 127h19v5h-19zM121 127h87v5h-87zM215 127h12v5h-12zM233 127h7v5h-7zM246 127h6v5h-6zM271 127h68v5h-68zM351 127h7v5h-7zM370 127h6v5h-6zM420 127h31v5h-31zM78 132h6v5h-6zM121 132h44v5h-44zM177 132h19v5h-19zM208 132h38v5h-38zM277 132h12v5h-12zM295 132h63v5h-63zM420 132h12v5h-12zM78 137h6v5h-6zM115 137h19v5h-19zM140 137h25v5h-25zM177 137h63v5h-63zM271 137h6v5h-6zM295 137h13v5h-13zM314 137h37v5h-37zM358 137h6v5h-6zM370 137h13v5h-13zM395 137h6v5h-6zM426 137h19v5h-19zM103 142h43v5h-43zM152 142h7v5h-7zM165 142h75v5h-75zM283 142h44v5h-44zM333 142h43v5h-43zM383 142h37v5h-37zM426 142h19v5h-19zM457 142h50v5h-50zM103 147h18v5h-18zM128 147h18v5h-18zM152 147h19v5h-19zM177 147h56v5h-56zM277 147h56v5h-56zM345 147h87v5h-87zM438 147h13v5h-13zM476 147h12v5h-12zM103 152h12v6h-12zM128 152h31v6h-31zM177 152h56v6h-56zM258 152h31v6h-31zM295 152h38v6h-38zM345 152h50v6h-50zM401 152h37v6h-37zM451 152h37v6h-37zM121 158h7v5h-7zM134 158h31v5h-31zM171 158h44v5h-44zM258 158h75v5h-75zM351 158h25v5h-25zM401 158h13v5h-13zM426 158h12v5h-12zM457 158h31v5h-31zM134 163h56v5h-56zM196 163h12v5h-12zM252 163h25v5h-25zM289 163h13v5h-13zM314 163h50v5h-50zM389 163h6v5h-6zM401 163h6v5h-6zM432 163h13v5h-13zM451 163h37v5h-37zM128 168h12v5h-12zM152 168h32v5h-32zM196 168h6v5h-6zM271 168h24v5h-24zM308 168h50v5h-50zM383 168h12v5h-12zM401 168h19v5h-19zM432 168h13v5h-13zM451 168h12v5h-12zM470 168h24v5h-24zM159 173h18v5h-18zM277 173h18v5h-18zM308 173h31v5h-31zM345 173h13v5h-13zM407 173h25v5h-25zM438 173h7v5h-7zM451 173h19v5h-19zM140 178h31v5h-31zM233 178h7v5h-7zM277 178h6v5h-6zM302 178h56v5h-56zM401 178h19v5h-19zM438 178h44v5h-44zM146 183h25v6h-25zM277 183h6v6h-6zM289 183h25v6h-25zM320 183h31v6h-31zM414 183h37v6h-37zM152 189h13v5h-13zM208 189h7v5h-7zM233 189h7v5h-7zM277 189h6v5h-6zM333 189h12v5h-12zM389 189h18v5h-18zM420 189h12v5h-12zM445 189h12v5h-12zM463 189h7v5h-7zM159 194h6v5h-6zM215 194h31v5h-31zM283 194h12v5h-12zM383 194h12v5h-12zM414 194h6v5h-6zM426 194h37v5h-37zM494 194h7v5h-7zM215 199h18v5h-18zM283 199h6v5h-6zM389 199h62v5h-62zM457 199h6v5h-6zM215 204h18v5h-18zM395 204h43v5h-43zM445 204h18v5h-18zM215 209h12v5h-12zM289 209h31v5h-31zM401 209h6v5h-6zM414 209h37v5h-37zM457 209h6v5h-6zM494 209h13v5h-13zM221 214h25v5h-25zM295 214h13v5h-13zM345 214h6v5h-6zM364 214h6v5h-6zM401 214h13v5h-13zM420 214h6v5h-6zM432 214h6v5h-6zM445 214h12v5h-12zM501 214h12v5h-12zM202 219h38v6h-38zM289 219h13v6h-13zM308 219h12v6h-12zM339 219h6v6h-6zM358 219h6v6h-6zM395 219h6v6h-6zM414 219h24v6h-24zM451 219h6v6h-6zM494 219h25v6h-25zM74 225h4v5h-4zM202 225h56v5h-56zM283 225h25v5h-25zM314 225h6v5h-6zM327 225h37v5h-37zM395 225h19v5h-19zM432 225h25v5h-25zM507 225h12v5h-12zM74 230h10v5h-10zM90 230h7v5h-7zM208 230h19v5h-19zM233 230h13v5h-13zM252 230h6v5h-6zM277 230h37v5h-37zM333 230h12v5h-12zM351 230h13v5h-13zM370 230h6v5h-6zM389 230h12v5h-12zM426 230h12v5h-12zM507 230h6v5h-6zM74 235h10v5h-10zM90 235h13v5h-13zM208 235h38v5h-38zM252 235h6v5h-6zM283 235h31v5h-31zM339 235h31v5h-31zM376 235h7v5h-7zM426 235h6v5h-6zM438 235h7v5h-7zM488 235h19v5h-19zM74 240h10v5h-10zM90 240h13v5h-13zM196 240h6v5h-6zM215 240h37v5h-37zM289 240h13v5h-13zM308 240h12v5h-12zM333 240h31v5h-31zM389 240h6v5h-6zM401 240h6v5h-6zM414 240h24v5h-24zM476 240h18v5h-18zM501 240h6v5h-6zM78 245h6v5h-6zM90 245h31v5h-31zM202 245h6v5h-6zM221 245h6v5h-6zM240 245h31v5h-31zM283 245h6v5h-6zM295 245h13v5h-13zM339 245h19v5h-19zM370 245h6v5h-6zM389 245h12v5h-12zM407 245h38v5h-38zM470 245h6v5h-6zM507 245h12v5h-12zM84 250h6v5h-6zM97 250h12v5h-12zM115 250h6v5h-6zM221 250h37v5h-37zM302 250h6v5h-6zM314 250h6v5h-6zM327 250h18v5h-18zM358 250h18v5h-18zM389 250h12v5h-12zM426 250h12v5h-12zM445 250h6v5h-6zM463 250h13v5h-13zM494 250h30v5h-30zM78 255h31v6h-31zM121 255h7v6h-7zM221 255h25v6h-25zM252 255h6v6h-6zM283 255h62v6h-62zM351 255h13v6h-13zM370 255h6v6h-6zM389 255h6v6h-6zM426 255h25v6h-25zM463 255h31v6h-31zM507 255h12v6h-12zM78 261h12v5h-12zM134 261h6v5h-6zM215 261h43v5h-43zM277 261h12v5h-12zM295 261h7v5h-7zM314 261h19v5h-19zM345 261h38v5h-38zM389 261h18v5h-18zM414 261h6v5h-6zM432 261h13v5h-13zM451 261h68v5h-68zM84 266h25v5h-25zM134 266h12v5h-12zM202 266h44v5h-44zM252 266h12v5h-12zM271 266h6v5h-6zM308 266h6v5h-6zM320 266h38v5h-38zM376 266h7v5h-7zM420 266h6v5h-6zM432 266h92v5h-92zM78 271h12v5h-12zM103 271h12v5h-12zM121 271h7v5h-7zM202 271h19v5h-19zM227 271h31v5h-31zM295 271h32v5h-32zM339 271h25v5h-25zM401 271h6v5h-6zM420 271h74v5h-74zM513 271h11v5h-11zM74 276h29v5h-29zM109 276h12v5h-12zM140 276h12v5h-12zM196 276h12v5h-12zM215 276h12v5h-12zM233 276h19v5h-19zM289 276h13v5h-13zM308 276h12v5h-12zM333 276h43v5h-43zM438 276h13v5h-13zM463 276h7v5h-7zM476 276h25v5h-25zM507 276h12v5h-12zM103 281h6v5h-6zM115 281h25v5h-25zM202 281h19v5h-19zM227 281h31v5h-31zM283 281h6v5h-6zM302 281h6v5h-6zM314 281h19v5h-19zM339 281h6v5h-6zM351 281h13v5h-13zM451 281h12v5h-12zM482 281h12v5h-12zM78 286h12v5h-12zM97 286h12v5h-12zM128 286h6v5h-6zM202 286h31v5h-31zM240 286h12v5h-12zM302 286h6v5h-6zM320 286h38v5h-38zM364 286h19v5h-19zM445 286h6v5h-6zM457 286h25v5h-25zM488 286h25v5h-25zM74 291h4v6h-4zM90 291h7v6h-7zM128 291h12v6h-12zM146 291h6v6h-6zM202 291h56v6h-56zM308 291h12v6h-12zM327 291h6v6h-6zM345 291h19v6h-19zM445 291h49v6h-49zM202 297h13v5h-13zM221 297h25v5h-25zM252 297h6v5h-6zM314 297h13v5h-13zM339 297h6v5h-6zM438 297h19v5h-19zM463 297h38v5h-38zM196 302h6v5h-6zM208 302h32v5h-32zM320 302h19v5h-19zM345 302h13v5h-13zM438 302h13v5h-13zM457 302h50v5h-50zM190 307h62v5h-62zM320 307h19v5h-19zM438 307h13v5h-13zM457 307h6v5h-6zM470 307h43v5h-43zM196 312h50v5h-50zM308 312h12v5h-12zM333 312h6v5h-6zM457 312h13v5h-13zM476 312h18v5h-18zM501 312h6v5h-6zM202 317h38v5h-38zM345 317h6v5h-6zM376 317h7v5h-7zM451 317h12v5h-12zM476 317h6v5h-6zM494 317h7v5h-7zM507 317h6v5h-6zM202 322h6v5h-6zM215 322h31v5h-31zM364 322h12v5h-12zM395 322h6v5h-6zM470 322h18v5h-18zM494 322h19v5h-19zM208 327h19v6h-19zM364 327h6v6h-6zM383 327h12v6h-12zM463 327h13v6h-13zM488 327h19v6h-19zM370 333h6v5h-6zM383 333h12v5h-12zM476 333h6v5h-6zM494 333h25v5h-25zM227 338h31v5h-31zM383 338h18v5h-18zM463 338h13v5h-13zM494 338h30v5h-30zM190 343h25v5h-25zM221 343h25v5h-25zM351 343h7v5h-7zM376 343h31v5h-31zM426 343h6v5h-6zM457 343h6v5h-6zM488 343h31v5h-31zM208 348h25v5h-25zM376 348h7v5h-7zM389 348h43v5h-43zM463 348h7v5h-7zM488 348h13v5h-13zM240 353h6v5h-6zM370 353h6v5h-6zM383 353h24v5h-24zM420 353h6v5h-6zM507 353h6v5h-6zM252 358h12v5h-12zM370 358h13v5h-13zM395 358h6v5h-6zM190 363h12v6h-12zM215 363h12v6h-12zM233 363h19v6h-19zM345 363h44v6h-44zM395 363h19v6h-19zM438 363h7v6h-7zM476 363h6v6h-6zM78 369h12v5h-12zM159 369h6v5h-6zM208 369h7v5h-7zM227 369h19v5h-19zM351 369h13v5h-13zM370 369h44v5h-44zM445 369h18v5h-18zM84 374h6v5h-6zM271 374h6v5h-6zM345 374h62v5h-62zM196 379h6v5h-6zM240 379h12v5h-12zM320 379h13v5h-13zM364 379h19v5h-19zM401 379h31v5h-31zM457 379h6v5h-6zM171 384h6v5h-6zM184 384h6v5h-6zM333 384h6v5h-6zM345 384h6v5h-6zM457 384h6v5h-6zM364 389h31v5h-31zM345 394h6v6h-6zM420 394h12v6h-12zM240 400h6v5h-6zM364 400h6v5h-6zM445 400h6v5h-6zM445 405h6v5h-6zM451 410h6v5h-6zM445 415h6v5h-6z"/>
<path fill="#300038" d="M376 65h19v5h-19zM240 86h6v5h-6zM308 91h6v5h-6zM240 96h6v5h-6zM196 101h6v5h-6zM519 101h5v5h-5zM97 127h6v5h-6zM240 127h6v5h-6zM271 132h6v5h-6zM159 142h6v5h-6zM376 142h7v5h-7zM171 147h6v5h-6zM128 163h6v5h-6zM184 168h6v5h-6zM140 183h6v6h-6zM134 189h6v5h-6zM128 194h6v5h-6zM78 214h6v5h-6zM414 214h6v5h-6zM84 230h6v5h-6zM345 230h6v5h-6zM109 250h6v5h-6zM420 250h6v5h-6zM128 266h6v5h-6zM426 266h6v5h-6zM115 271h6v5h-6zM190 271h6v5h-6zM109 286h6v5h-6zM233 286h7v5h-7zM308 286h6v5h-6zM513 286h6v5h-6zM140 291h6v6h-6zM364 291h6v6h-6zM432 302h6v5h-6zM196 317h6v5h-6zM358 327h6v6h-6zM364 333h6v5h-6zM376 333h7v5h-7zM246 343h6v5h-6zM184 358h6v5h-6zM364 358h6v5h-6zM482 358h6v5h-6zM177 384h7v5h-7zM339 384h6v5h-6zM407 394h7v6h-7zM327 400h37v5h-37zM414 400h6v5h-6zM482 400h6v5h-6zM401 405h6v5h-6zM445 410h6v5h-6z"/>
<path fill="#9b0dba" d="M445 75h37v5h-37zM445 80h37v6h-37zM445 86h37v5h-37zM445 91h31v5h-31z"/>
<path fill="#e17900" d="M482 91h6v5h-6zM482 96h6v5h-6zM121 338h7v5h-7zM121 343h7v5h-7zM277 405h6v5h-6zM277 410h6v5h-6zM78 415h12v5h-12z"/>
<path fill="#d55700" d="M476 101h18v5h-18zM165 230h6v5h-6zM165 235h6v5h-6zM84 327h25v6h-25zM115 333h25v5h-25zM115 338h6v5h-6zM128 338h6v5h-6zM74 415h4v5h-4z"/>
<path fill="#ce4600" d="M476 106h18v5h-18zM482 111h6v5h-6zM159 230h6v5h-6zM152 317h7v5h-7zM74 322h10v5h-10zM90 322h19v5h-19zM146 322h6v5h-6zM121 327h25v6h-25zM109 333h6v5h-6zM277 400h6v5h-6zM74 405h16v5h-16zM74 410h41v5h-41zM90 415h38v5h-38zM277 415h12v5h-12zM513 415h11v5h-11z"/>
</g>
<clipPath id="pc"><rect x="75" y="58" width="449" height="361"/></clipPath>
<path clip-path="url(#pc)" d="M92.2 96.4L98.4 92.7L104.0 90.6L109.6 91.7L115.8 92.9L123.3 94.1L128.2 95.4L130.7 94.7L135.7 93.3L139.4 92.7L144.4 94.3L149.4 94.3L155.6 96.4L158.1 97.8L163.1 97.8L164.3 96.4L168.0 96.4L171.8 97.8L176.7 97.4L178.0 94.3L180.5 89.6L183.0 92.3L184.2 95.4L186.7 96.4L189.2 96.4L192.3 93.9L196.6 94.7L197.3 98.5L194.1 100.9L190.4 103.6L187.9 105.7L185.4 107.1L183.0 109.8L181.1 112.9L181.1 116.4L183.6 120.1L186.7 120.1L189.2 121.5L192.9 123.6L196.3 124.2L196.3 128.3L197.9 130.4L199.7 131.8L200.6 129.3L200.4 125.2L202.9 121.1L201.6 117.0L202.2 112.9L201.6 108.9L205.3 109.4L209.1 110.8L211.6 111.8L212.2 115.9L214.0 117.4L216.5 116.6L218.1 113.3L219.6 115.9L221.5 119.0L222.7 123.2L225.9 125.2L227.7 128.3L229.0 130.4L227.1 131.8L218.6 137.2L217.2 139.4L218.4 142.3L220.3 143.1L222.1 143.3L223.6 140.7L224.0 142.7L222.7 144.1L219.6 145.8L216.5 147.6L216.3 146.0L218.4 143.9L215.3 144.8L213.4 146.2L211.2 147.9L210.6 149.9L211.6 151.4L209.9 152.0L207.0 153.4L206.3 155.5L205.0 158.1L204.1 161.2L204.5 164.7L202.9 166.4L200.4 169.1L197.9 172.6L197.5 176.1L198.9 181.8L198.7 185.3L197.6 185.5L195.8 180.4L195.6 177.1L194.1 175.6L192.3 176.1L189.8 174.8L187.9 175.2L187.6 177.3L185.4 177.1L182.0 176.3L179.2 178.7L177.6 181.8L177.4 185.9L177.0 191.1L178.0 195.2L179.2 198.3L181.1 199.9L183.6 199.3L185.4 198.3L186.1 194.2L188.6 192.9L190.4 193.3L189.8 197.3L189.2 200.3L188.3 204.5L190.4 204.9L193.5 204.9L195.0 206.5L194.6 211.7L194.5 214.8L195.8 217.8L197.5 219.3L199.5 217.8L201.0 218.1L202.5 219.7M202.2 222.6L201.2 220.5L199.4 219.3L198.7 222.2L197.0 221.8L195.4 220.3L194.5 218.9L192.0 216.8L191.9 214.8L189.8 210.6L188.2 210.2L186.1 209.0L183.8 207.3L181.7 204.3L178.6 205.1L176.1 203.6L174.2 202.4L172.0 200.6L169.6 199.1L167.4 195.6L167.7 192.5L166.3 189.4L164.3 185.9L162.7 184.3L162.1 181.8L160.8 179.8L159.1 177.7L158.1 173.6L156.0 171.9L156.0 174.6L157.5 177.7L158.7 180.8L159.9 183.9L161.2 187.4L162.4 190.1L161.6 189.0L159.3 186.3L159.0 183.9L156.8 181.2L156.5 178.7L154.7 175.6L153.5 171.9L152.9 169.9L151.4 167.6L148.8 166.4L147.1 162.3L146.3 159.6L144.7 156.1L144.0 154.2L144.2 150.9L143.9 147.9L144.4 142.3L143.5 138.0L145.6 138.2L146.3 140.0L146.3 136.5L145.0 135.5L143.2 134.1L140.3 132.4L139.7 129.9L138.2 127.3L136.6 125.2L135.7 122.1L133.2 119.7L131.3 117.4L128.9 117.2L127.0 115.5L124.5 114.3L120.8 113.9L117.7 112.9L115.2 111.8L113.9 113.9L112.1 115.1L109.8 115.3L110.6 112.4L112.1 111.4L109.6 112.2L107.7 114.9L106.7 117.0L104.6 119.0L102.1 121.5L99.6 122.9L96.5 124.4L93.7 125.0L95.9 123.6L98.4 122.1L100.9 120.1L102.7 118.0L103.4 116.4L100.9 116.8L97.4 116.6L97.2 114.3L94.7 114.1L92.8 112.2L92.4 109.8L94.0 107.7L98.4 106.7L98.4 104.6L95.9 104.6L92.2 104.4L89.7 102.4L93.4 100.5L97.2 101.3L97.5 99.5L94.7 98.0L92.2 96.4M207.8 75.8L214.0 73.7L217.8 70.7L224.0 68.6L233.9 67.6L242.6 68.6L248.9 65.7L258.8 65.5L267.5 66.5L271.2 68.6L263.8 69.6L276.2 72.1L283.7 70.0L277.5 72.7L273.7 75.8L275.0 79.3L273.7 82.0L275.0 84.0L271.2 86.1L268.8 88.2L271.2 90.2L268.8 92.3L271.2 92.9L266.3 95.4L261.3 97.0L257.6 99.5L253.8 101.7L249.5 102.6L248.2 105.2L246.4 108.1L245.1 113.5L242.6 113.9L238.9 111.8L236.4 108.7L234.6 105.7L233.3 102.2L231.8 99.1L232.7 96.4L235.2 94.3L230.8 92.3L230.2 89.2L228.3 85.1L225.2 81.4L220.3 80.5L214.0 81.0L210.3 78.9L207.8 75.8M268.8 102.6L271.2 100.7L275.6 101.5L279.9 100.9L281.7 103.6L279.9 105.0L275.2 106.9L270.6 106.1L271.2 104.4L268.8 102.6M186.7 85.5L192.9 85.5L197.9 85.7L202.9 87.5L209.1 90.2L214.0 92.7L215.3 95.4L220.3 98.9L222.1 100.5L219.0 103.6L216.5 107.7L214.0 108.7L216.5 110.0L210.3 107.9L207.8 104.8L201.6 104.4L206.6 102.4L207.2 98.5L203.5 95.4L201.0 93.3L196.6 93.7L191.7 92.5L187.9 90.6L186.7 85.5M186.7 80.1L194.1 80.1L200.4 79.9L204.1 76.8L206.6 74.8L214.0 72.1L219.0 69.6L221.5 67.6L211.6 66.3L199.1 66.5L189.2 68.0L184.2 70.2L190.4 72.1L190.4 74.2L187.9 76.8L186.7 80.1M179.2 73.1L185.4 71.7L189.2 74.8L185.4 76.2L180.5 75.4L179.2 73.1M184.2 79.7L191.7 81.8L199.1 82.2L199.1 83.6L191.7 84.0L185.4 83.8L183.6 82.0L184.2 79.7M153.1 87.1L160.6 87.5L168.0 87.1L171.8 91.2L172.4 94.3L168.0 95.6L163.1 95.8L158.1 96.4L154.4 94.7L153.1 92.7L159.3 92.3L152.5 90.4L150.6 90.0L153.1 87.1M143.2 89.2L145.0 86.1L145.6 84.5L151.9 84.7L155.0 86.5L151.2 88.6L148.1 90.6L145.6 91.0L143.2 89.2M153.1 81.0L158.1 80.3L163.1 79.5L166.8 81.0L167.4 83.0L161.8 84.0L156.8 83.6L153.1 82.6L153.1 81.0M171.8 79.9L176.7 79.5L177.4 83.0L174.2 83.0L171.8 81.8L171.8 79.9M171.8 86.1L178.0 85.5L178.6 88.6L175.5 90.6L171.8 88.6L171.8 86.1M179.2 85.1L185.4 85.1L186.1 87.7L181.7 89.4L179.2 87.5L179.2 85.1M174.9 93.7L179.2 93.7L179.8 96.0L175.5 95.8L174.9 93.7M190.4 102.6L192.9 101.5L197.9 105.0L195.4 106.7L192.3 107.3L190.4 106.3L190.4 102.6M224.9 139.2L227.1 133.4L229.2 131.4L229.0 134.5L232.1 135.9L232.9 139.6L231.8 141.3L229.2 140.9L224.9 139.2M139.1 132.8L142.5 133.9L145.0 137.6L142.5 136.7L139.1 132.8M133.2 126.0L134.7 127.9L135.7 130.4L133.8 128.3L133.2 126.0M106.5 119.0L109.0 118.0L109.0 119.7L106.5 119.0M89.1 127.3L91.6 126.2M83.5 129.9L86.6 128.9M77.3 131.0L79.7 130.4M90.6 113.5L92.4 113.9M85.1 106.7L88.4 107.3M192.9 192.5L195.4 190.3L197.9 189.8L200.4 191.1L202.9 192.9L205.3 194.8L206.3 195.8L202.2 196.4L201.6 195.0L199.1 192.7L196.6 191.3L194.8 191.9L192.9 192.5M206.1 199.5L207.8 196.4L211.6 196.6L213.5 199.1L210.9 199.9L209.1 199.9L206.1 199.5M201.2 199.7L203.7 200.1M215.0 199.7L216.9 199.7M202.5 219.7L203.1 220.9L204.6 217.8L204.8 215.4L206.6 214.3L209.1 212.3L209.7 214.8L209.3 216.8L210.3 218.3L210.3 215.2L211.6 212.7L213.4 214.8L216.5 215.6L219.0 215.8L221.5 215.4L221.8 217.4L224.0 219.9L225.9 223.4L227.7 225.3L231.5 225.5L233.9 227.5L235.2 229.2L236.4 235.3L235.8 237.4L238.3 238.8L240.2 238.8L243.3 241.5L245.1 242.5L247.0 243.4L250.1 244.6L252.2 247.3L254.7 248.3L255.3 252.8L254.7 257.0L252.6 260.5L250.7 264.2L250.1 268.3L249.9 273.4L248.6 278.6L247.6 282.7L245.1 284.7L242.6 286.4L240.2 288.2L238.3 290.9L236.9 300.0L233.7 307.6L227.5 314.4L222.5 321.2L217.5 330.0L214.4 336.2L212.8 343.8L211.9 348.1L215.7 350.0L211.9 348.8L209.4 346.9L207.2 342.6L208.1 339.9L208.4 327.6L208.9 312.5L210.6 297.5L209.7 299.2L210.3 294.0L210.9 288.9L211.3 280.6L211.2 275.1L209.7 273.0L207.2 270.7L205.0 268.7L203.7 265.8L202.6 262.1L201.4 258.0L200.0 253.9L199.1 250.8L197.6 249.8L197.5 246.7L198.7 244.2L199.1 242.5L197.9 241.9L198.1 239.5L199.1 236.8L200.4 234.7L201.0 232.3L202.2 229.6L202.5 226.1L202.2 222.6M222.7 344.0L226.5 343.4L225.2 345.1L222.7 344.0M221.8 216.6L222.7 215.4M339.4 175.4L337.8 174.6L333.9 173.2L329.2 172.4L325.3 176.3L321.4 174.0L317.5 170.7L313.6 168.4L312.5 162.9L308.9 161.4L303.4 162.9L297.2 164.5L291.8 165.4L289.4 170.1L287.0 176.3L283.2 184.1L279.9 190.3L277.5 194.2L278.3 198.3L278.1 204.5L276.8 207.1L277.8 211.7L279.9 214.8L281.8 217.8L282.4 220.3L284.3 223.2L287.4 227.1L289.3 228.3L292.4 226.9L294.9 227.1L296.1 227.5L299.8 225.5L302.3 224.4L304.2 224.6L305.4 227.5L306.7 228.5L309.2 227.9L310.4 229.6L310.8 232.3L310.3 235.3L309.8 238.8L310.7 242.5L312.3 245.6L313.5 248.7L314.1 251.8L315.1 255.9L315.6 260.0L314.1 264.2L313.5 269.3L313.3 273.4L314.5 277.5L316.0 282.7L316.6 286.8L317.3 292.0L319.1 296.5L320.1 300.2L321.4 304.3L321.5 307.8L323.5 309.0L326.6 307.4L330.6 307.4L332.8 305.7L335.9 301.2L337.1 298.7L339.0 295.7L339.5 290.9L340.9 288.9L342.7 286.8L342.6 282.7L341.9 278.6L344.0 275.5L347.1 272.0L349.2 268.3L349.0 260.0L347.7 254.9L347.5 251.4L346.8 248.7L348.0 245.6L349.6 241.5L351.4 238.4L353.3 235.3L354.9 233.3L357.7 228.5L359.5 223.0L361.4 217.8L362.3 213.1L359.5 214.1L355.8 215.4L353.3 215.8L352.3 213.7L352.1 211.7L350.8 208.6L349.0 206.1L347.5 204.9L346.7 200.3L345.0 198.3L344.9 194.2L343.4 190.1L342.1 185.9L340.9 181.8L339.0 175.6L340.9 179.8L341.5 180.0L342.1 176.7L342.5 179.8L344.4 183.9L345.9 188.0L347.1 192.1L348.3 196.2L350.2 200.3L351.6 203.4L352.2 209.2L352.8 211.3L354.6 211.1L357.0 209.6L359.5 208.0L363.3 204.5L365.7 202.4L367.6 200.8L370.1 198.3L371.1 195.2L373.0 191.1L371.6 188.8L369.5 188.0L368.9 183.3L368.2 184.3L366.4 187.4L363.3 188.0L362.6 187.0L362.4 183.9L361.6 185.9L360.8 182.8L359.5 180.2L358.3 176.7L359.3 175.0L361.4 177.3L362.0 179.8L363.9 180.8L366.4 182.6L368.9 181.8L369.9 184.5L373.2 185.3L375.7 185.5L378.8 185.3L381.3 185.3L382.3 187.0L383.5 188.8L385.6 190.5L384.4 191.7L386.0 194.4L388.1 194.2L388.8 192.1L389.1 194.2L389.1 198.3L389.7 203.4L390.6 206.9L391.6 211.1L393.1 216.8L394.7 220.7L395.8 219.3L396.8 218.3L397.8 216.2L398.5 210.6L398.2 205.9L399.9 203.8L401.8 201.4L404.3 197.7L406.5 195.2L406.8 193.1L408.6 192.7L411.1 191.5L412.8 191.5L413.4 194.8L415.5 199.3L416.0 204.5L417.1 204.9L419.0 202.6L420.0 203.8L420.2 207.6L421.2 212.7L421.2 216.8L420.7 220.5L422.3 223.6L423.4 226.1L423.9 229.6L424.8 232.0L427.3 234.7L428.2 232.3L427.2 229.2L426.9 226.1L425.4 224.4L423.6 222.6L423.0 218.9L422.0 215.8L423.0 212.7L423.3 209.8L424.2 211.3L426.1 212.7L426.7 215.2L428.9 217.4L428.9 219.7L431.0 217.8L431.7 216.0L434.1 213.7L434.5 210.6L434.1 206.5L432.3 203.0L431.0 200.3L430.0 197.7L431.3 194.8L432.9 193.1L434.8 193.1L435.4 195.6L436.0 193.6L439.1 192.1L440.6 191.5L443.5 190.1L445.3 187.0L447.2 184.9L447.8 181.8L449.7 178.7L450.3 175.6L449.1 174.6L450.1 173.6L449.1 170.5L447.8 166.4L446.9 165.4L448.4 162.9L450.9 161.2L449.1 159.8L446.6 160.6L445.3 158.1L445.0 157.1L446.6 156.1L449.1 153.4L450.3 154.0L449.4 157.1L451.6 155.7L453.2 155.1L454.0 158.1L454.4 159.8L456.0 161.2L455.8 165.4L455.8 166.6L457.8 165.8L459.4 164.3L459.5 161.2L458.1 157.9L457.1 155.5L459.6 153.0L460.9 150.3L462.7 148.5L466.5 145.8L469.0 142.7L471.4 138.6L473.3 134.5L474.3 130.4L474.3 127.7L472.7 126.2L470.2 126.2L469.0 125.2L467.1 124.2L470.2 120.1L472.7 117.0L476.4 115.3L480.2 115.1L483.9 114.7L487.6 115.9L491.3 115.3L493.2 110.8L497.6 110.2L501.3 108.7L502.5 110.8L498.2 113.9L494.5 118.0L492.2 122.1L492.6 128.3L493.5 132.4L495.7 128.3L497.6 125.2L500.0 121.7L501.5 118.4L500.7 115.9L502.5 113.9L505.0 113.3L510.0 113.9L512.5 111.8L515.0 110.2L518.7 108.7L521.2 109.2L519.3 104.6L522.4 103.6L524.3 103.0M74.8 103.6L78.5 105.0L83.5 105.0L84.7 103.6L87.2 101.5L86.0 99.9L81.0 98.5L74.8 95.8M524.3 95.4L522.4 95.8L519.9 94.7L513.7 93.7L510.0 95.4L506.3 94.1L500.0 94.1L497.6 92.3L493.8 91.2L487.6 91.7L485.1 90.2L478.9 88.2L472.7 87.7L471.4 90.2L466.5 90.2L462.7 90.8L459.0 91.2L456.5 86.1L451.6 87.1L445.3 86.1L439.7 85.7L439.1 82.0L432.9 79.5L427.9 77.5L423.0 79.9L416.7 81.0L408.0 82.4L405.5 85.1L398.7 86.1L398.1 89.2L401.8 92.3L398.1 93.3L396.2 96.6L394.3 92.9L392.5 97.4L390.6 100.3L386.9 101.3L390.6 98.5L389.7 93.7L385.9 93.3L384.0 96.6L377.6 97.4L370.0 98.5L362.5 99.3L356.9 101.3L355.1 98.5L354.1 103.2L351.2 105.9L343.7 105.9L340.9 102.8L346.6 101.5L351.2 100.9L345.6 97.4L340.0 95.6L334.4 93.3L327.8 94.7L322.2 97.2L317.5 100.3L313.8 105.0L310.0 109.8L307.2 114.3L306.7 117.2L310.0 119.0L314.6 120.1L317.5 123.4L320.9 120.1L323.5 115.3L322.7 110.6L326.0 106.9L329.1 104.6L327.8 109.2L326.8 113.5L329.7 117.2L335.3 115.9L330.7 119.7L325.0 123.4L319.4 126.7L315.6 127.9L312.8 124.6L310.0 123.8L308.2 127.5L304.3 132.2L299.7 135.1L295.0 138.8L297.9 142.5L296.0 146.2L291.3 149.1L288.4 149.9L290.1 152.8L289.4 157.5L291.8 162.3L295.6 163.7L298.7 159.8L300.3 155.9L303.4 152.0L308.9 149.3L312.8 151.1L317.5 155.1L319.9 157.5L317.1 147.9L321.0 152.8L323.7 156.7L326.1 161.9L328.4 160.6L328.7 157.1L332.3 155.9L335.4 152.0L336.5 146.6L342.5 145.0L348.7 142.1L349.6 148.9L348.0 153.6L339.4 155.1L333.9 155.9L332.3 159.0L334.7 162.9L339.4 164.5L344.1 166.8L341.7 171.5L339.4 175.4M360.2 142.1L363.3 141.1L364.5 144.1L362.0 145.8L361.4 147.9L363.9 149.9L364.5 153.0L365.5 157.1L365.5 161.2L363.3 161.6L360.8 160.4L359.5 158.1L360.2 154.4L358.7 150.9L357.0 147.9L357.0 144.8L360.2 142.1M371.1 144.8L373.2 141.7L375.1 142.1L374.5 145.8L372.6 147.6L371.1 146.8L371.1 144.8M291.5 134.5L294.2 133.9L297.4 133.0L300.2 132.0L300.6 128.9L298.8 128.3L298.6 126.9L296.7 124.2L296.1 122.1L295.1 121.5L296.1 119.0L293.9 118.6L294.9 116.8L292.4 116.8L291.4 119.0L291.8 121.1L291.8 123.4L292.6 124.6L294.5 124.6L294.9 127.3L293.0 127.7L293.3 128.7L293.4 129.9L292.1 130.8L294.6 131.6L293.3 132.2L291.5 134.5M290.8 129.9L290.9 127.7L291.6 125.2L290.8 123.8L288.3 123.8L288.0 125.4L286.2 125.8L286.4 127.7L287.2 128.1L286.4 129.7L285.9 130.8L286.8 131.4L288.7 131.0L290.8 129.9M313.5 75.4L318.5 74.4L324.7 73.7L333.4 74.0L329.7 76.4L326.6 77.5L322.2 79.5L320.4 81.4L317.9 79.5L314.1 77.5L313.5 75.4M469.0 82.0L475.2 81.0L478.9 82.0L485.1 82.4L480.2 83.4L472.7 83.4L469.0 82.0M520.6 90.8L524.3 90.4M74.8 90.4L77.9 90.8L76.0 91.5L74.8 91.2M461.4 167.4L463.4 164.3L467.1 164.1L468.7 160.6L469.3 161.6L470.9 160.2L472.3 156.1L472.7 153.6L474.3 152.2L474.9 155.1L475.2 157.1L473.9 159.2L473.9 161.6L473.7 163.9L472.4 165.4L471.2 166.0L469.0 166.2L468.7 166.8L467.5 168.4L466.5 166.2L464.0 166.8L462.7 167.6L461.4 167.4M461.4 167.6L462.4 169.1L462.1 171.9L461.1 173.6L460.5 171.5L459.9 169.5L461.4 167.6M463.4 167.6L465.9 167.0L466.1 167.8L465.5 168.9L464.0 169.9L463.4 167.6M472.7 152.0L473.1 148.5L474.7 143.9L476.4 146.2L479.3 146.4L479.5 148.3L476.8 150.9L474.6 149.7L473.3 150.9L472.7 152.0M475.2 142.7L477.0 141.1L476.2 139.6L476.7 135.9L478.3 136.5L476.8 131.4L476.7 128.3L476.0 125.6L475.2 127.3L474.9 131.4L475.3 134.5L475.2 138.6L475.2 142.7M398.0 217.4L399.6 219.9L400.3 223.0L399.6 224.6L398.3 225.0L397.8 222.0L398.0 217.4M439.7 282.7L440.4 282.3L443.8 279.8L446.6 278.6L449.7 276.5L450.6 274.5L450.7 272.4L452.3 273.0L452.8 271.0L454.7 267.2L456.5 266.2L458.1 267.9L459.6 268.1L460.3 264.8L461.2 262.9L463.5 262.3L463.4 260.7L466.5 262.5L468.7 262.5L467.7 265.2L467.1 268.3L469.0 269.9L471.8 273.4L473.7 273.4L474.6 268.3L474.7 263.7L475.8 259.4L477.0 263.1L477.4 266.8L479.3 268.3L480.2 273.4L480.5 276.1L482.6 278.6L483.9 280.6L486.0 283.7L486.4 285.8L488.9 289.3L489.5 295.0L488.9 301.2L487.6 305.3L486.6 307.4L485.7 310.5L485.1 314.2L482.6 315.4L480.6 317.9L478.9 316.2L477.0 317.3L473.9 315.8L472.3 314.0L472.1 311.1L470.6 310.5L470.2 306.4L470.0 304.5L467.7 309.0L467.1 309.0L465.2 305.3L464.6 303.5L461.5 302.2L459.0 302.4L455.3 303.9L452.8 305.3L452.2 307.2L447.8 307.2L445.3 309.4L442.8 309.4L441.6 308.0L442.5 304.3L442.5 302.2L441.6 299.2L440.6 294.0L439.7 290.9L439.7 287.8L439.7 282.7M478.5 321.2L480.8 322.0L482.9 321.4L483.0 323.9L482.0 326.3L480.2 327.2L479.3 324.9L478.5 321.2M513.4 308.2L515.3 310.5L516.8 312.9L518.1 314.8L520.6 315.0L519.8 318.1L518.7 318.7L518.6 320.8L516.6 323.0L516.0 322.2L516.5 320.2L515.0 318.7L515.8 316.7L515.7 313.6L513.7 309.4L513.4 308.2M513.4 320.8L515.3 322.4L513.7 325.9L513.1 327.6L511.2 329.0L510.6 332.1L508.1 333.3L505.6 332.1L506.9 329.6L508.1 328.0L510.6 325.9L511.9 323.4L513.4 320.8M359.9 262.1L361.3 269.3L360.2 272.4L358.9 279.6L357.0 288.9L354.6 289.9L352.9 285.8L352.4 282.3L353.7 278.6L353.3 272.4L355.8 269.9L358.3 265.2L359.9 262.1M75.0 399.3L96.2 399.3L102.8 398.4M96.2 399.7L99.6 402.1M75.0 412.2L86.9 412.4L94.4 413.8L105.6 414.3L115.6 414.3L113.5 410.9L110.3 406.2L108.4 402.5L109.8 398.8L114.0 395.9L120.6 394.6L126.2 393.5L133.8 391.6L141.2 389.8L146.9 389.4L152.5 390.5L157.2 390.9L160.9 393.1L167.5 392.2L174.0 389.0L178.8 388.4L184.4 389.4L192.5 389.0L200.0 387.5L205.6 388.4L210.3 389.8L215.0 385.6L216.5 378.1L219.7 372.9L224.8 369.7L225.9 372.5L223.4 378.1L224.0 385.6L223.4 392.2L229.0 395.0L234.1 397.8L241.2 398.4L250.6 398.4L257.2 398.4L260.0 395.9L265.6 392.8L273.1 389.0L280.6 385.6L287.2 383.8L293.8 381.5L298.8 380.4L304.4 383.4L313.8 382.8L324.0 382.8L332.5 383.4L340.0 380.4L346.6 382.2L353.1 378.1L359.7 376.2L365.3 374.0L370.0 375.3L375.6 377.2L383.1 379.0L386.0 382.8L392.5 381.5L397.2 379.6L402.8 376.2L407.5 375.3L421.1 374.4L432.4 374.0L439.9 374.4L446.4 376.6L453.9 374.4L468.0 374.4L473.6 375.3L479.2 377.8L488.6 380.0L499.9 382.2L511.1 386.0L506.4 391.2L503.6 395.9L501.4 400.2L504.6 406.2L509.2 409.0L517.7 410.4M502.7 398.4L509.2 397.2L516.8 398.4L522.8 399.7M223.4 392.8L215.0 394.6L203.8 395.9L196.2 397.8L201.9 401.6L209.4 404.4L218.8 405.9L230.0 406.8L241.2 406.2L250.6 405.3L260.0 403.4L257.2 398.4M220.6 403.4L225.3 401.6L233.8 399.1L239.4 397.8L244.0 400.6L245.0 403.4L235.6 403.4L225.3 401.6M207.1 384.7L213.1 380.9L215.0 383.8L210.3 387.5L207.1 384.7M217.8 378.1L220.6 373.4L224.4 371.0M258.0 399.4L262.0 395.5L268.0 392.0L276.0 388.0L284.0 385.5M295.0 385.5L300.6 384.7L304.4 383.4M385.0 379.0L388.8 380.0L386.0 383.8L385.0 379.0M417.3 226.5L421.4 231.0L426.5 239.2L430.6 244.3L426.1 244.3L421.4 235.1L417.3 226.5M444.9 224.9L446.5 235.1L442.4 245.3L435.7 240.2L439.8 232.0L444.9 224.9M431.6 251.4L436.7 252.4L441.8 254.5L433.7 253.9L431.6 251.4M450.0 200.4L452.0 201.4L452.7 209.6L450.0 208.6L450.0 200.4M453.5 219.8L455.5 218.8L455.5 225.3L452.0 223.9L453.5 219.8M447.6 216.3L448.4 217.3M462.2 241.6L465.3 243.7L475.5 243.7L480.6 251.4L486.7 259.2L477.6 255.5L471.4 252.4L465.3 245.3L462.2 241.6M521.6 273.3L522.4 272.2M340.6 238.4L341.2 241.4L341.0 245.5M503.0 279.5L504.0 280.5M521.5 272.8L522.5 272.0M227.2 133.3L221.7 134.8L216.2 137.2L212.3 140.3L206.9 145.0L201.4 148.9L197.5 150.5L196.2 146.6L194.7 143.4L193.1 148.9L191.2 145.0L192.0 141.9L189.7 138.0L187.3 137.2L185.0 140.3L188.1 141.9L190.5 143.4M176.4 128.6L178.0 127.8L177.2 132.5L175.6 134.1L176.4 128.6M180.3 138.0L184.2 134.8M101.0 193.5L102.0 193.5M103.5 194.8L104.5 195.3M105.0 197.0L106.0 198.0M370.6 93.8L366.5 90.7L365.5 88.7L368.6 86.2L373.7 84.2L379.8 82.1L383.9 80.5M353.3 74.4L357.3 73.3L362.4 74.0M376.7 72.9L379.8 72.3M414.5 74.8L416.5 72.7L420.6 74.4L423.7 76.4L426.7 75.4L426.1 78.9M145.9 102.5L150.6 101.3L153.7 103.3L148.6 105.4L145.9 102.5M150.6 108.0L155.7 109.5L161.8 108.7L159.8 111.5L154.7 112.1L150.6 108.0M159.4 116.8L165.9 116.2L172.0 118.2L177.1 121.3L174.1 122.9L171.0 119.7L163.9 118.2L159.4 116.8M310.5 154.1L311.2 156.7M316.2 160.3L318.8 160.3M329.2 166.1L330.2 166.1" fill="none" stroke="#40e0d0" stroke-width="1" stroke-linejoin="round" shape-rendering="crispEdges"/>
<g shape-rendering="crispEdges">
<rect x="535" y="416.00" width="23" height="4.00" fill="#100006"/>
<rect x="535" y="413.00" width="23" height="4.00" fill="#1c0013"/>
<rect x="535" y="411.00" width="23" height="3.00" fill="#24001f"/>
<rect x="535" y="408.00" width="23" height="4.00" fill="#2a002c"/>
<rect x="535" y="405.00" width="23" height="4.00" fill="#300038"/>
<rect x="535" y="402.00" width="23" height="4.00" fill="#350044"/>
<rect x="535" y="399.00" width="23" height="4.00" fill="#390050"/>
<rect x="535" y="396.00" width="23" height="4.00" fill="#3e005c"/>
<rect x="535" y="394.00" width="23" height="3.00" fill="#420067"/>
<rect x="535" y="391.00" width="23" height="4.00" fill="#450073"/>
<rect x="535" y="388.00" width="23" height="4.00" fill="#49007e"/>
<rect x="535" y="385.00" width="23" height="4.00" fill="#4c0088"/>
<rect x="535" y="382.00" width="23" height="4.00" fill="#500093"/>
<rect x="535" y="379.00" width="23" height="4.00" fill="#53009d"/>
<rect x="535" y="377.00" width="23" height="3.00" fill="#5600a7"/>
<rect x="535" y="374.00" width="23" height="4.00" fill="#5900b0"/>
<rect x="535" y="371.00" width="23" height="4.00" fill="#5c01b9"/>
<rect x="535" y="368.00" width="23" height="4.00" fill="#5e01c1"/>
<rect x="535" y="365.00" width="23" height="4.00" fill="#6101c9"/>
<rect x="535" y="362.00" width="23" height="4.00" fill="#6401d0"/>
<rect x="535" y="360.00" width="23" height="3.00" fill="#6601d7"/>
<rect x="535" y="357.00" width="23" height="4.00" fill="#6901de"/>
<rect x="535" y="354.00" width="23" height="4.00" fill="#6b01e4"/>
<rect x="535" y="351.00" width="23" height="4.00" fill="#6d02e9"/>
<rect x="535" y="348.00" width="23" height="4.00" fill="#7002ee"/>
<rect x="535" y="345.00" width="23" height="4.00" fill="#7202f2"/>
<rect x="535" y="343.00" width="23" height="3.00" fill="#7402f6"/>
<rect x="535" y="340.00" width="23" height="4.00" fill="#7603f9"/>
<rect x="535" y="337.00" width="23" height="4.00" fill="#7803fb"/>
<rect x="535" y="334.00" width="23" height="4.00" fill="#7a03fd"/>
<rect x="535" y="331.00" width="23" height="4.00" fill="#7c03fe"/>
<rect x="535" y="329.00" width="23" height="3.00" fill="#7e04ff"/>
<rect x="535" y="326.00" width="23" height="3.00" fill="#8004ff"/>
<rect x="535" y="323.00" width="23" height="4.00" fill="#8205fe"/>
<rect x="535" y="320.00" width="23" height="4.00" fill="#8405fd"/>
<rect x="535" y="317.00" width="23" height="4.00" fill="#8605fb"/>
<rect x="535" y="314.00" width="23" height="4.00" fill="#8806f9"/>
<rect x="535" y="312.00" width="23" height="3.00" fill="#8a06f6"/>
<rect x="535" y="309.00" width="23" height="4.00" fill="#8c07f2"/>
<rect x="535" y="306.00" width="23" height="4.00" fill="#8e07ee"/>
<rect x="535" y="303.00" width="23" height="4.00" fill="#8f08e9"/>
<rect x="535" y="300.00" width="23" height="4.00" fill="#9109e4"/>
<rect x="535" y="297.00" width="23" height="4.00" fill="#9309de"/>
<rect x="535" y="295.00" width="23" height="3.00" fill="#950ad7"/>
<rect x="535" y="292.00" width="23" height="4.00" fill="#960bd0"/>
<rect x="535" y="289.00" width="23" height="4.00" fill="#980bc9"/>
<rect x="535" y="286.00" width="23" height="4.00" fill="#9a0cc1"/>
<rect x="535" y="283.00" width="23" height="4.00" fill="#9b0db9"/>
<rect x="535" y="280.00" width="23" height="4.00" fill="#9d0eb0"/>
<rect x="535" y="278.00" width="23" height="3.00" fill="#9f0fa7"/>
<rect x="535" y="275.00" width="23" height="4.00" fill="#a0109d"/>
<rect x="535" y="272.00" width="23" height="4.00" fill="#a21193"/>
<rect x="535" y="269.00" width="23" height="4.00" fill="#a31288"/>
<rect x="535" y="266.00" width="23" height="4.00" fill="#a5137e"/>
<rect x="535" y="263.00" width="23" height="4.00" fill="#a61473"/>
<rect x="535" y="261.00" width="23" height="3.00" fill="#a81567"/>
<rect x="535" y="258.00" width="23" height="4.00" fill="#a9165c"/>
<rect x="535" y="255.00" width="23" height="4.00" fill="#ab1750"/>
<rect x="535" y="252.00" width="23" height="4.00" fill="#ac1844"/>
<rect x="535" y="249.00" width="23" height="4.00" fill="#ae1a38"/>
<rect x="535" y="246.00" width="23" height="4.00" fill="#af1b2c"/>
<rect x="535" y="244.00" width="23" height="3.00" fill="#b11c1f"/>
<rect x="535" y="241.00" width="23" height="4.00" fill="#b21e13"/>
<rect x="535" y="238.00" width="23" height="4.00" fill="#b41f06"/>
<rect x="535" y="235.00" width="23" height="4.00" fill="#b52100"/>
<rect x="535" y="232.00" width="23" height="4.00" fill="#b62200"/>
<rect x="535" y="230.00" width="23" height="3.00" fill="#b82400"/>
<rect x="535" y="227.00" width="23" height="4.00" fill="#b92500"/>
<rect x="535" y="224.00" width="23" height="4.00" fill="#bb2700"/>
<rect x="535" y="221.00" width="23" height="4.00" fill="#bc2900"/>
<rect x="535" y="218.00" width="23" height="4.00" fill="#bd2b00"/>
<rect x="535" y="215.00" width="23" height="4.00" fill="#bf2c00"/>
<rect x="535" y="213.00" width="23" height="3.00" fill="#c02e00"/>
<rect x="535" y="210.00" width="23" height="4.00" fill="#c13000"/>
<rect x="535" y="207.00" width="23" height="4.00" fill="#c33200"/>
<rect x="535" y="204.00" width="23" height="4.00" fill="#c43400"/>
<rect x="535" y="201.00" width="23" height="4.00" fill="#c53600"/>
<rect x="535" y="198.00" width="23" height="4.00" fill="#c63900"/>
<rect x="535" y="196.00" width="23" height="3.00" fill="#c83b00"/>
<rect x="535" y="193.00" width="23" height="4.00" fill="#c93d00"/>
<rect x="535" y="190.00" width="23" height="4.00" fill="#ca3f00"/>
<rect x="535" y="187.00" width="23" height="4.00" fill="#cb4200"/>
<rect x="535" y="184.00" width="23" height="4.00" fill="#cd4400"/>
<rect x="535" y="181.00" width="23" height="4.00" fill="#ce4700"/>
<rect x="535" y="179.00" width="23" height="3.00" fill="#cf4900"/>
<rect x="535" y="176.00" width="23" height="4.00" fill="#d04c00"/>
<rect x="535" y="173.00" width="23" height="4.00" fill="#d24f00"/>
<rect x="535" y="170.00" width="23" height="4.00" fill="#d35100"/>
<rect x="535" y="167.00" width="23" height="4.00" fill="#d45400"/>
<rect x="535" y="164.00" width="23" height="4.00" fill="#d55700"/>
<rect x="535" y="162.00" width="23" height="3.00" fill="#d65a00"/>
<rect x="535" y="159.00" width="23" height="4.00" fill="#d85d00"/>
<rect x="535" y="156.00" width="23" height="4.00" fill="#d96000"/>
<rect x="535" y="153.00" width="23" height="4.00" fill="#da6300"/>
<rect x="535" y="150.00" width="23" height="4.00" fill="#db6700"/>
<rect x="535" y="148.00" width="23" height="3.00" fill="#dc6a00"/>
<rect x="535" y="145.00" width="23" height="3.00" fill="#dd6d00"/>
<rect x="535" y="142.00" width="23" height="4.00" fill="#df7100"/>
<rect x="535" y="139.00" width="23" height="4.00" fill="#e07400"/>
<rect x="535" y="136.00" width="23" height="4.00" fill="#e17800"/>
<rect x="535" y="133.00" width="23" height="4.00" fill="#e27b00"/>
<rect x="535" y="131.00" width="23" height="3.00" fill="#e37f00"/>
<rect x="535" y="128.00" width="23" height="4.00" fill="#e48300"/>
<rect x="535" y="125.00" width="23" height="4.00" fill="#e58700"/>
<rect x="535" y="122.00" width="23" height="4.00" fill="#e68b00"/>
<rect x="535" y="119.00" width="23" height="4.00" fill="#e88f00"/>
<rect x="535" y="116.00" width="23" height="4.00" fill="#e99300"/>
<rect x="535" y="114.00" width="23" height="3.00" fill="#ea9700"/>
<rect x="535" y="111.00" width="23" height="4.00" fill="#eb9b00"/>
<rect x="535" y="108.00" width="23" height="4.00" fill="#eca000"/>
<rect x="535" y="105.00" width="23" height="4.00" fill="#eda400"/>
<rect x="535" y="102.00" width="23" height="4.00" fill="#eea900"/>
<rect x="535" y="99.00" width="23" height="4.00" fill="#efad00"/>
<rect x="535" y="97.00" width="23" height="3.00" fill="#f0b200"/>
<rect x="535" y="94.00" width="23" height="4.00" fill="#f1b700"/>
<rect x="535" y="91.00" width="23" height="4.00" fill="#f2bb00"/>
<rect x="535" y="88.00" width="23" height="4.00" fill="#f3c000"/>
<rect x="535" y="85.00" width="23" height="4.00" fill="#f4c500"/>
<rect x="535" y="82.00" width="23" height="4.00" fill="#f5ca00"/>
<rect x="535" y="80.00" width="23" height="3.00" fill="#f6cf00"/>
<rect x="535" y="77.00" width="23" height="4.00" fill="#f7d500"/>
<rect x="535" y="74.00" width="23" height="4.00" fill="#f8da00"/>
<rect x="535" y="71.00" width="23" height="4.00" fill="#f9e000"/>
<rect x="535" y="68.00" width="23" height="4.00" fill="#fae500"/>
<rect x="535" y="65.00" width="23" height="4.00" fill="#fbeb00"/>
<rect x="535" y="63.00" width="23" height="3.00" fill="#fcf000"/>
<rect x="535" y="60.00" width="23" height="4.00" fill="#fef600"/>
<rect x="535" y="57.00" width="23" height="4.00" fill="#fffc00"/>
</g>
<g fill="none" stroke="#000" stroke-width="1" shape-rendering="crispEdges">
<rect x="74.5" y="57.5" width="450.0" height="362.0"/>
<rect x="535.5" y="57.5" width="22.0" height="362.0"/>
<path d="M535.5 347.5h4M557.5 347.5h-4M535.5 275.5h4M557.5 275.5h-4M535.5 202.5h4M557.5 202.5h-4M535.5 130.5h4M557.5 130.5h-4"/>
</g>
<text x="298.1" y="33" text-anchor="middle">UQRG-GIM Global StdDev-VTEC maps 20230902.245.00000</text>
<text x="112.1" y="444" text-anchor="middle">-150</text>
<text x="174.2" y="444" text-anchor="middle">-100</text>
<text x="236.4" y="444" text-anchor="middle">-50</text>
<text x="298.6" y="444" text-anchor="middle">0</text>
<text x="360.8" y="444" text-anchor="middle">50</text>
<text x="423.0" y="444" text-anchor="middle">100</text>
<text x="485.1" y="444" text-anchor="middle">150</text>
<text x="60.8" y="407.7" text-anchor="end">-80</text>
<text x="60.8" y="366.5" text-anchor="end">-60</text>
<text x="60.8" y="325.3" text-anchor="end">-40</text>
<text x="60.8" y="284.2" text-anchor="end">-20</text>
<text x="60.8" y="243.0" text-anchor="end">0</text>
<text x="60.8" y="201.8" text-anchor="end">20</text>
<text x="60.8" y="160.7" text-anchor="end">40</text>
<text x="60.8" y="119.5" text-anchor="end">60</text>
<text x="60.8" y="78.3" text-anchor="end">80</text>
<text x="571" y="424.5">2</text>
<text x="571" y="352.0">4</text>
<text x="571" y="279.5">6</text>
<text x="571" y="207.0">8</text>
<text x="571" y="134.5">10</text>
<text x="571" y="62.0">12</text>
<text x="297.5" y="470.6" text-anchor="middle">Longitude / deg</text>
<text transform="translate(19,238.8) rotate(-90)" text-anchor="middle">Latitude / deg</text>
<text transform="translate(606,238) rotate(-90)" text-anchor="middle">StdDev-VTEC / TECU</text>
</svg></body></html>
